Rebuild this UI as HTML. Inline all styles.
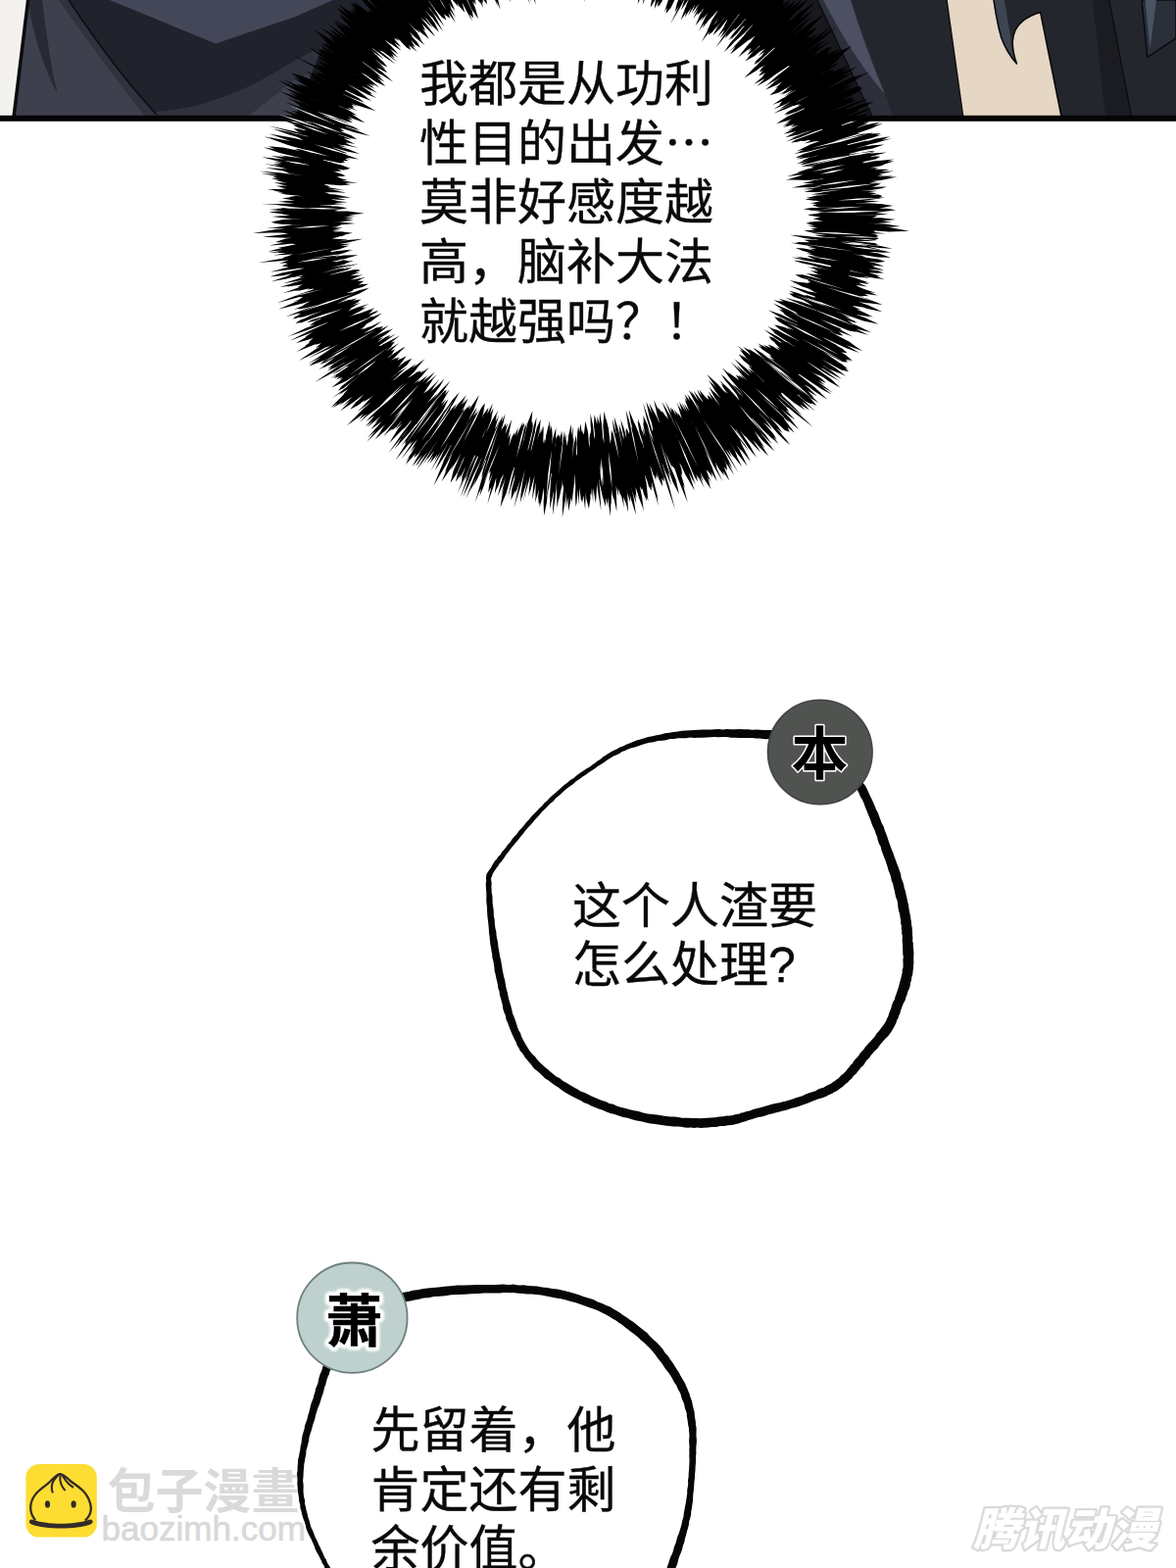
<!DOCTYPE html>
<html><head><meta charset="utf-8"><title>page</title>
<style>
html,body{margin:0;padding:0;background:#fff;}
body{width:1200px;height:1600px;overflow:hidden;font-family:"Liberation Sans",sans-serif;}
svg{display:block}
</style></head><body>
<svg width="1200" height="1600" viewBox="0 0 1200 1600">
<rect width="1200" height="1600" fill="#fff"/>
<g id="panel">
<rect x="0" y="0" width="1200" height="121" fill="#3e404e"/>
<path d="M0 0L28 0L13.5 121L0 121Z" fill="#f2f1ee"/>
<path d="M60 0C95 50 125 90 150 121L250 121L300 82L420 30L420 0Z" fill="#30323e"/>
<path d="M70 0C100 45 130 85 158 114C200 112 250 95 300 62L420 0L340 0L300 17.5L220 44.5L112 0Z" fill="#20222c"/>
<path d="M70 0C100 45 130 85 160 117" fill="none" stroke="#0c0c10" stroke-width="1.5"/>
<path d="M112 0L220 44.5L300 17.5L340 0Z" fill="#444758"/>
<path d="M330 45L420 0L834 0L891 121L300 121Z" fill="#18181d"/>
<path d="M28 0L43 0C48 40 52 70 59 96C45 70 35 40 28 0Z" fill="#272934"/>
<path d="M26.9 0L30.4 0L15.6 121L12.1 121Z" fill="#0a0a0c"/>
<path d="M834 0L891 121L1200 121L1200 0Z" fill="#24262e"/>
<path d="M834 0L868 0L912 121L891 121Z" fill="#2d2f3b"/>
<path d="M840 0L868 0C880 40 892 70 903 96C880 70 858 35 840 0Z" fill="#4d5062"/>
<path d="M834 0L891 121" stroke="#0c0c10" stroke-width="1.5" fill="none"/>
<path d="M966 0L1064 0L1083.5 121L983 121Z" fill="#e6d6c4"/>
<path d="M966 0L983 121" stroke="#111" stroke-width="1.5" fill="none"/>
<path d="M1014 0C1016 14 1018.5 27 1021.7 38.3C1026 50 1031 58 1037.5 65C1034.5 57 1033 49 1033.3 41.7C1034 33 1038 26 1043.3 21.7C1049 17 1055 14.5 1061.7 12.5L1083.5 121L1100 121L1100 0Z" fill="#24262e"/>
<path d="M1014 0C1016 14 1018.5 27 1021.7 38.3C1026 50 1031 58 1037.5 65C1033 55 1031.5 48 1031.7 41.7C1030 28 1027 14 1025 0Z" fill="#3d4552"/>
<path d="M1014 0C1016 14 1018.5 27 1021.7 38.3C1026 50 1031 58 1037.5 65C1034.5 57 1033 49 1033.3 41.7C1034 33 1038 26 1043.3 21.7C1049 17 1055 14.5 1061.7 12.5L1083.5 121" fill="none" stroke="#08080a" stroke-width="1.6" stroke-linejoin="round"/>
<path d="M1115 0L1131.7 0L1155 121L1128.3 121Z" fill="#1b1c22"/>
<path d="M1131.7 0L1155 121" stroke="#0b0b0e" stroke-width="1.3" fill="none"/>
<path d="M1165 0L1200 0L1200 39L1170.8 58.3Z" fill="#2a2f3a" stroke="#0b0c10" stroke-width="1.6" stroke-linejoin="round"/>
<path d="M1168.5 0L1180 0L1173.5 50Z" fill="#4a5363"/>
<rect x="0" y="117.8" width="1200" height="6" fill="#050505"/>
</g>
<path d="M864 219L863.9 226.1L863.6 233.2L863.1 240.3L862.3 247.4L861.4 254.5L860.2 261.5L858.9 268.5L857.3 275.4L855.5 282.3L853.6 289.1L851.4 295.8L849.1 302.5L846.5 309.1L843.8 315.7L840.9 322.1L837.8 328.4L834.5 334.7L831.1 340.8L827.5 346.9L823.7 352.8L819.8 358.6L815.7 364.3L811.5 369.9L807.2 375.3L802.7 380.6L798 385.8L793.2 390.9L788.4 395.8L783.4 400.6L778.2 405.2L773 409.7L767.7 414.1L762.2 418.3L756.7 422.4L751 426.3L745.3 430L739.5 433.7L733.6 437.1L727.7 440.4L721.7 443.6L715.6 446.6L709.4 449.5L703.2 452.2L696.9 454.7L690.6 457.1L684.3 459.4L677.9 461.4L671.4 463.4L664.9 465.1L658.4 466.8L651.8 468.2L645.3 469.6L638.7 470.7L632 471.7L625.4 472.6L618.7 473.3L612.1 473.8L605.4 474.2L598.7 474.4L592 474.5L585.3 474.4L578.6 474.2L571.9 473.8L565.3 473.3L558.6 472.6L552 471.7L545.3 470.7L538.7 469.6L532.2 468.3L525.6 466.8L519.1 465.2L512.6 463.4L506.1 461.5L499.7 459.5L493.3 457.2L487 454.8L480.7 452.3L474.5 449.6L468.3 446.8L462.2 443.8L456.2 440.6L450.2 437.3L444.3 433.9L438.5 430.3L432.8 426.5L427.1 422.6L421.5 418.6L416.1 414.4L410.7 410L405.4 405.6L400.3 400.9L395.3 396.1L390.3 391.2L385.5 386.2L380.9 381L376.3 375.7L371.9 370.3L367.7 364.7L363.5 359L359.6 353.2L355.8 347.3L352.1 341.2L348.6 335.1L345.3 328.8L342.1 322.5L339.2 316.1L336.4 309.5L333.7 302.9L331.3 296.2L329 289.5L326.9 282.6L325 275.7L323.3 268.8L321.8 261.8L320.5 254.7L319.3 247.7L318.4 240.5L317.6 233.4L317.1 226.2L316.7 219L316.5 211.8L316.5 204.6L316.7 197.3L317 190.1L317.5 182.9L318.2 175.6L319.1 168.4L320.2 161.2L321.4 154L322.9 146.9L324.5 139.8L326.3 132.7L328.4 125.6L330.6 118.7L333.1 111.7L335.7 104.9L338.6 98.1L341.7 91.4L344.9 84.9L348.4 78.4L352.1 72L356 65.8L360.1 59.6L364.4 53.7L368.9 47.8L373.6 42.1L378.4 36.6L383.5 31.2L388.6 26L394 21L399.5 16.1L405.1 11.4L410.8 6.9L416.7 2.5L422.7 -1.7L428.8 -5.7L434.9 -9.5L441.2 -13.2L447.6 -16.7L454 -20L460.5 -23.2L467.1 -26.2L473.7 -29L480.4 -31.7L487.1 -34.2L493.9 -36.6L500.7 -38.8L507.6 -40.8L514.5 -42.7L521.4 -44.4L528.4 -45.9L535.4 -47.3L542.4 -48.5L549.5 -49.6L556.5 -50.4L563.6 -51.2L570.7 -51.7L577.8 -52.1L584.9 -52.3L592 -52.3L599.1 -52.2L606.2 -51.8L613.3 -51.3L620.3 -50.7L627.4 -49.8L634.4 -48.8L641.4 -47.6L648.4 -46.2L655.3 -44.6L662.2 -42.9L669 -40.9L675.8 -38.8L682.5 -36.6L689.2 -34.1L695.8 -31.5L702.3 -28.7L708.8 -25.8L715.1 -22.7L721.4 -19.4L727.6 -15.9L733.7 -12.3L739.8 -8.5L745.7 -4.6L751.5 -0.5L757.2 3.7L762.8 8.1L768.3 12.6L773.6 17.3L778.9 22.1L784 27L789 32.1L793.8 37.3L798.5 42.6L803.1 48.1L807.5 53.6L811.8 59.3L815.9 65.1L819.9 71L823.7 77L827.3 83.1L830.8 89.3L834.2 95.6L837.3 102L840.3 108.4L843.2 115L845.8 121.6L848.3 128.2L850.6 135L852.7 141.8L854.7 148.6L856.4 155.5L858 162.5L859.4 169.4L860.6 176.5L861.7 183.5L862.5 190.6L863.2 197.7L863.6 204.8L863.9 211.9Z" fill="#fff" stroke="#000" stroke-width="20" stroke-linejoin="round"/>
<path d="M824.6 219L833.6 219.9L895 219.4L906.3 218.4L895 217.6L833.6 218.1ZM824.1 219.6L838.9 221.9L889.6 222.5L895 220.4L889.6 218.2L838.9 217.6ZM840.3 221.2L855.4 223.2L888.2 224.6L896 223.7L888.3 222.1L855.5 220.6ZM829.6 223.3L838.4 225.2L899.3 225.8L914.1 224.1L899.3 222.2L838.5 221.6ZM835 224.8L842.9 226.6L894.9 228L910 226.8L895 224.8L843 223.4ZM831 227.1L847.7 228.7L891.9 230.1L897.2 229.2L892 228L847.7 226.5ZM824.4 226.8L835.8 229L902.5 231.9L918.8 230.9L902.7 228.6L835.9 225.7ZM822.2 227.7L832.2 230.7L907.2 236.4L927.7 235.8L907.6 232L832.5 226.3ZM830.4 229.8L834.6 231.1L896.6 235.8L906.9 235.6L896.8 233.9L834.7 229.2ZM824.1 230.4L839.2 233.7L888.2 238L893.1 236.4L888.5 233.9L839.6 229.7ZM828.8 235.3L837.4 236.7L887.7 238.6L904 238.2L887.8 236.5L837.5 234.6ZM827.4 233.3L834.6 235.7L892.7 242.3L896.5 241.1L893.1 239.1L834.9 232.5ZM820.2 235.2L832.7 238.6L892.2 244.9L896.8 243.4L892.6 240.9L833.1 234.5ZM831 239.9L843.2 241.6L878.7 242.9L887.5 241.9L878.8 240.3L843.3 239ZM832 240.3L840.7 241.8L876.1 244L880.1 243.2L876.2 241.9L840.8 239.7ZM825.8 242.4L840.8 244.1L877.2 246.1L895.2 246.1L877.3 244.2L840.9 242.2ZM816.8 241.3L822.8 243L892.2 250.2L896.2 249.6L892.4 248.1L823 240.9ZM806.1 239.8L821 242.9L897.2 252.9L910.9 253.7L897.5 250.8L821.3 240.8ZM831 245.2L837.5 248.1L883.2 254.8L898.7 255.1L883.8 250.9L838.1 244.3ZM820.4 244.8L828.6 248L882.9 257.1L891.8 256.8L883.5 253.6L829.2 244.4ZM806.8 247.7L823 250.4L899.9 257.8L908.9 257.5L900.1 255.6L823.2 248.2ZM811.9 246.9L826.3 251.4L895.7 262.6L908.9 262.7L896.3 258.5L826.9 247.3ZM824.6 252.1L838.5 255.3L877.3 260.3L885.8 260L877.6 257.6L838.9 252.5ZM835.7 254.3L841.1 256.3L879.1 263.2L885 263.2L879.5 261.1L841.4 254.2ZM825.9 253.7L836.5 257.4L882.8 266.6L897.1 267.9L883.4 263.5L837.1 254.3ZM820.6 256.1L827.1 258.6L896 267.8L903.4 267.1L896.5 264.6L827.5 255.4ZM811.7 253L819.8 256.2L891.8 271.1L902.2 271.8L892.4 268.3L820.4 253.4ZM822.8 258.6L831.9 261.3L886.5 270.5L896.5 271.1L886.9 268.3L832.3 259.1ZM826.3 261.8L836.6 265L882.1 272L893.9 272.2L882.6 268.8L837.1 261.8ZM823.3 261.3L834.2 265L887.8 274.8L902.5 275.8L888.4 271.5L834.8 261.7ZM824.5 261.8L834.7 266.3L885.3 278.3L896 278.7L886.2 274.3L835.7 262.3ZM807.5 262.6L822.1 266L896.1 278.5L901.8 278.5L896.4 276.6L822.4 264.1ZM811.7 261.4L826.7 266.1L892.4 281.9L898.3 282.3L892.9 279.9L827.2 264ZM809.5 265.7L818.3 268.6L892.2 283.8L902.9 284.9L892.7 281.7L818.7 266.5ZM828.6 270.8L836.4 273.3L875.5 281.1L895.6 284.2L875.8 279.4L836.7 271.6ZM823.7 272.5L840.1 276.6L873.2 282.5L888.2 283.9L873.6 280.1L840.5 274.3ZM827.5 272.3L836.3 275.8L871.7 285.6L888.2 289.1L872.3 283.6L836.9 273.8ZM830.2 274.7L839.9 279.1L873.6 288.1L887.1 290L874.4 284.8L840.8 275.8ZM826.8 276.3L841.2 281.5L874.2 288.7L884.6 288.8L875.1 284.6L842.1 277.4ZM829.6 277.2L834.5 279.8L874.9 291L885 292.4L875.5 288.5L835.2 277.4ZM822.2 278.9L835 283.3L873 291.8L877.1 291.1L873.7 288.7L835.6 280.2ZM825.9 280.6L839.7 285.6L874.1 294.7L884.1 295.9L874.8 292.1L840.4 283ZM820.1 282.5L834.3 287L879.9 297.2L893.7 299L880.5 294.6L834.9 284.4ZM811.4 280.2L818 283.7L881.5 299.7L895.6 301.4L882.4 296.3L818.9 280.3ZM820.9 283.4L826.1 287.2L876.2 301.6L886.6 302.3L877.4 297.4L827.3 283ZM826.6 287.6L834.6 291.2L878.3 302.5L882.2 301.9L879.1 299.5L835.4 288.3ZM823.8 287.7L828.4 290.3L869.5 302.9L881.9 305.5L870.2 300.7L829.1 288.1ZM812.4 287.5L824.7 293.1L884.1 308.9L900.5 311L885.2 304.7L825.8 288.9ZM823.8 292.5L837.6 298.3L869.1 306.9L885.7 309.4L870.1 303.1L838.7 294.5ZM805.8 286.1L818.9 292.4L885 314.9L900.4 318.2L886.2 311.5L820.1 289.1ZM823 293.3L830.7 297.7L865.6 309.5L871 309.5L866.7 306.2L831.8 294.5ZM822.9 297.1L836.3 302.7L865.8 311.2L880.3 313.5L866.8 307.8L837.2 299.4ZM825.8 298.6L832.2 303L864.4 314L878.6 316.5L865.8 309.9L833.5 298.9ZM805.2 291.4L820.3 298.3L879 320.2L891.3 323.5L879.9 318L821.2 296.1ZM830.6 303.3L834.6 306.5L864.2 316.2L871.9 316.9L865.3 312.8L835.7 303.1ZM817.5 301.7L822.2 305.4L872.3 320.7L888.9 323.6L873.5 316.7L823.4 301.3ZM804.5 296.6L813.3 301.1L884.5 327.9L892 329.5L885.3 325.7L814.1 299ZM805.1 299.5L810 303L881.2 327.4L896.6 330.7L882.3 324L811.1 299.6ZM824.8 308.7L828.2 311.1L858 322L868.5 324.8L858.7 320L828.9 309.2ZM818.7 305.7L830.6 312.8L858.7 325L874 329.7L860.1 321.7L832.1 309.5ZM801.2 303.7L816.9 310.4L863.2 326.2L875.2 329.1L864 323.9L817.7 308ZM807.2 305.7L821.9 312.6L862.8 328.4L870 330L863.6 326.3L822.7 310.5ZM797 306L807.8 311.9L872.3 335.2L889 339.3L873.5 331.8L809.1 308.5ZM794.5 304.8L805.4 310.8L866.5 335.2L882.3 340L867.6 332.5L806.5 308ZM795.5 307L801.9 310.9L873 338.3L885.9 341.8L874 335.8L802.9 308.3ZM789.3 306L798.6 311.2L866.5 337.6L873.5 338.7L867.6 334.9L799.6 308.5ZM805.8 311.7L809.6 315.7L851.7 335.4L859.1 336.6L853.4 331.7L811.3 312ZM799.7 311.9L807.5 316.4L857.7 338.9L870.2 343.4L858.5 337.1L808.3 314.6ZM810.8 317.7L816.6 323L852.8 341.1L860.4 342.4L854.8 337.3L818.5 319.1ZM802.5 317.4L814.2 323.6L843.3 336.8L859 343L844 335.2L814.9 322.1ZM788.8 309.6L802.7 319L865 351.9L875.8 355.6L866.7 348.8L804.3 315.9ZM794.7 315.5L802.7 321.8L861.9 351.4L880.3 358.2L863.8 347.6L804.5 318.1ZM799.2 319.9L809.6 326.6L847.8 344.6L864.2 350.5L849.2 341.6L811 323.6ZM811.7 327.1L817.9 332.4L845.7 346L856 348.8L847.5 342.3L819.7 328.8ZM783.9 316.4L795.3 323.3L863.5 355.3L876.9 360.1L864.7 352.7L796.5 320.7ZM812.6 331L816 334.1L851.9 353.8L860.1 357L853 351.8L817 332.1ZM799.1 325.5L813.1 334.5L848.1 353.9L855.9 356.9L849.2 351.9L814.2 332.5ZM804.2 331.3L809.1 336L857.4 359.2L864.6 360.3L859.3 355.4L811 332.2ZM790.2 323.4L794.3 328L860.4 365.3L870 368.3L862.4 361.7L796.3 324.5ZM802.4 334.1L811.5 340.5L851.9 361.9L868.1 368.9L853.2 359.5L812.8 338.1ZM806.3 337.3L812.1 342.7L839.2 356.6L848.2 358.7L841.2 352.7L814.1 338.9ZM791.3 331.4L798.9 337.6L859.9 369.2L864.9 369.4L861.9 365.5L800.8 333.9ZM806.5 339.2L815.7 346L842.7 362.8L856.6 370.3L843.7 361.2L816.7 344.4ZM789.6 331.2L796.2 336.5L858.1 373.8L865.4 376.8L859.3 371.7L797.4 334.5ZM797.8 339.6L809.5 347L836.3 361.6L851.9 369.2L837.1 360.1L810.4 345.4ZM786 335.2L792.9 341.4L858.5 377.4L866.1 379.2L860.5 373.8L795 337.7ZM782.8 332.4L793.9 341.1L851.7 378.2L863.2 384L853.2 376L795.4 338.9ZM786.2 334.7L791 340.5L845.6 376.4L856 380.7L848 372.8L793.4 336.8ZM798.8 347.6L802.6 351.3L831.8 369.1L842 374L833.1 367.2L803.8 349.4ZM779.7 336.3L791.7 345.4L846.7 380.4L858.9 386.7L848 378.3L793.1 343.3ZM796.5 349.1L801.8 354.2L835.6 374.8L842.7 377.3L837.3 372L803.5 351.4ZM791.6 347.3L797 352L842.4 381L856.2 388.7L843.4 379.3L798 350.3ZM784.5 343.2L787.3 347.1L846.4 389.6L857.3 395.5L848.3 387L789.2 344.5ZM790.2 349.5L795.4 355L837.7 383.7L851.4 390.9L839.6 380.9L797.2 352.2ZM791.9 354.1L797.1 358.5L828.6 377.4L835.7 380.3L829.8 375.5L798.2 356.5ZM791.3 355.3L797.6 360.4L830.6 380.9L836.9 383.7L831.6 379.3L798.6 358.8ZM783.5 351.5L787.1 355.4L837.2 388.4L843 390.8L838.5 386.4L788.5 353.3ZM779.1 351.7L785.5 357.5L832.8 388.6L841.9 393L834.3 386.4L787 355.3ZM783.1 354.7L794.8 365.5L819.7 383L829.2 387.2L822.1 379.6L797.1 362.1ZM773.1 350.2L782.5 358.3L829.1 389.1L850.1 401.1L830.8 386.5L784.2 355.7ZM773.9 352.7L777.8 356.6L838.6 397.3L848.5 402.6L839.9 395.5L779.1 354.8ZM785.4 361.1L788 365.3L829.3 398L844.2 407.7L831.4 395.3L790.1 362.7ZM784.4 362.2L791.2 368.6L823.9 392.4L838 401.2L825.3 390.6L792.5 366.8ZM779.6 362.5L787.9 370.5L817.5 390.8L830.7 397.6L819.6 387.7L790.1 367.4ZM768.2 354.8L776.1 362.9L822.3 397.8L833.9 404.5L824.3 395.2L778.1 360.3ZM778.2 362.6L780.3 366.8L819.3 398.9L830.6 405.8L821.6 396L782.7 363.9ZM769.2 360.5L775.8 367L818.2 397.3L823.7 399.3L820 394.8L777.6 364.5ZM758.3 353.9L768.3 364L819.9 402.1L835.3 410.9L822.4 398.7L770.9 360.6ZM764.2 356L773.8 367.3L821.8 409.6L828.3 412.4L824.6 406.4L776.6 364.1ZM764.6 360.6L767.2 365.2L825 410.1L833.4 414.1L827.5 406.9L769.7 362ZM756.7 358.7L768.7 369.3L811.2 401.5L817.6 404.6L812.8 399.4L770.2 367.3ZM752.5 352.7L761.6 361.8L817.9 409L831.8 419.4L819.1 407.4L762.9 360.2ZM754.7 356.4L761.8 365.5L814.8 411.8L825.8 418.4L817.7 408.5L764.6 362.2ZM761.7 366.4L773.9 378.1L806.9 404.6L817.7 411.4L808.7 402.3L775.8 375.8ZM753.7 361.4L758.2 367.4L810.2 411.1L821.7 418.5L812.4 408.4L760.4 364.7ZM761.4 368.9L770 377.3L798.4 400.9L807.1 406.8L799.7 399.3L771.3 375.7ZM766.1 374.3L771.3 381.3L793.6 401.6L798.7 404.1L795.8 399.2L773.5 378.9ZM763.4 372.8L767 377.5L805 412.8L819 424.4L806.4 411.3L768.3 376ZM763.5 376L767.9 382.1L803.2 415.5L807 417.3L805 413.6L769.8 380.2ZM757.2 374.3L762 379.9L810.7 421.2L829.6 435.7L812.2 419.4L763.5 378.1ZM749.4 366.3L759.9 378.7L799.7 417.2L805.1 420.3L801.8 415L762.1 376.5ZM758.4 380L763.2 386.6L796.7 415.5L801.3 417.1L799 412.7L765.6 383.8ZM754.5 378.4L763.9 388.3L802.5 422.2L811.4 428.5L804 420.5L765.5 386.5ZM751.4 372.5L760.8 384.3L804 428.7L815.3 438.4L806 426.7L762.9 382.3ZM745.6 369.1L758.4 384L799.7 426.8L805.5 431.2L801.4 425.2L760.1 382.4ZM755.1 382.1L764.6 394.4L795.7 426.9L803.1 432.1L798.1 424.5L767 392ZM753.6 382.6L762.7 394.6L798.6 431.5L810.1 440.8L801.2 429L765.3 392ZM750.9 382.4L754.7 389.1L796.3 430.3L810.5 441.5L799.2 427.4L757.7 386.1ZM755 387.2L763.3 397.3L785.2 420.4L795.3 429.7L786.6 419.1L764.7 396ZM742.5 379.5L752.2 391.9L800.7 438.9L805.7 440.8L803.6 435.9L755.2 388.8ZM751.1 388.8L760.4 400.7L782.5 423.1L795.2 433.7L784.9 420.8L762.9 398.3ZM743.3 380.1L748.8 388.1L791.8 436.3L798.6 442.1L793.7 434.7L750.6 386.5ZM736.9 375L745.1 386.6L793.7 442.6L806 454.6L795.8 440.7L747.3 384.7ZM747.4 391.9L751.5 397.4L789.3 436.7L807.4 454.3L790.5 435.5L752.8 396.2ZM753 400.3L758.9 409L779.2 431.1L788.1 438.6L781.4 429L761.1 406.9ZM735.8 381.8L740 388.3L787.5 443.8L792.9 448.7L789 442.5L741.5 387ZM738.3 383.8L746.2 395.7L785 443.7L794.6 453.5L787.1 442L748.3 394ZM751.7 402.8L754.8 408.9L774.1 433L780.1 438.4L776.2 431.3L756.9 407.2ZM734 388L742.3 399.1L778.8 439L790.3 449.8L780.7 437.3L744.3 397.3ZM735.7 391.4L739 396.9L780 445.6L787.7 453.2L781.5 444.3L740.5 395.5ZM738.7 398.3L743.1 405L768.3 434.1L778.9 444.7L769.9 432.7L744.7 403.6ZM741.4 399.5L745.5 406.7L767.6 436.5L772.5 441.4L769.2 435.3L747.1 405.5ZM721.4 382.1L729.6 394L778.8 450.2L790.3 460.6L781.4 447.9L732.2 391.8ZM738.6 402.7L743 410.9L762.6 435.3L774.2 446.9L765.3 433.1L745.7 408.8ZM730.4 394.9L737.5 406.7L767.6 444.3L780.5 457.3L770.5 442L740.4 404.4ZM723 387.7L730.3 399.8L773.5 454.7L784.1 465.5L776.2 452.6L733 397.7ZM735.1 405.8L740 414L761 440.9L771.9 453.1L762.9 439.5L741.9 412.6ZM727.4 398.7L733.7 409.9L763.2 448.2L776.2 461.7L766.2 445.8L736.7 407.6ZM733.6 410.3L739.3 419.9L759.1 444.3L764.4 448.3L761.5 442.3L741.7 417.9ZM723.5 394.6L728.3 404.3L762.9 456.1L771.9 467L765.2 454.5L730.6 402.7ZM723.6 401L731.4 412.6L760.2 450.3L764.5 454.4L761.7 449.2L732.8 411.5ZM722.7 399.5L727.1 408L754.5 448.2L763.9 459.9L756.4 446.9L729 406.7ZM723 403.3L729.3 416.4L751.1 449.4L758.3 456.9L754.3 447.3L732.5 414.3ZM721.6 403L723.7 409.8L753.8 456.1L766 471.2L757.1 453.9L727 407.7ZM719.2 404.4L721.5 409.7L753 454.2L763.9 467.6L754.9 452.8L723.5 408.3ZM724.5 413.5L725.8 417.6L747.2 448.9L757 461L749.3 447.5L727.8 416.1ZM713.3 397.5L719 410.4L750.7 460.7L762.5 475.6L754.2 458.5L722.5 408.2ZM716.7 409.1L718.2 413.2L752.4 460.5L755.8 463.1L754.3 459.1L720.2 411.9ZM711.1 397.6L714.6 405.4L747.9 460.9L752.2 465.9L749.8 459.8L716.4 404.3ZM707.7 398.8L714.6 412.9L746.8 463.4L757.2 476.4L749.8 461.4L717.6 411ZM702.7 398L707.8 408.1L747.6 465.1L753.5 471L750 463.4L710.3 406.4ZM704.9 398.7L711.9 413L739.1 457L747 467L741.6 455.4L714.5 411.4ZM711.3 412L715.4 420.6L739.3 460.4L753.6 482.4L740.8 459.4L716.9 419.6ZM707.7 407.9L715.3 422.9L737.5 461.3L744.4 471.5L739 460.4L716.8 422ZM701.2 402L704.8 410L740.3 468.5L747.4 477.9L742.3 467.3L706.8 408.9ZM702.5 405.7L705.5 413L739.5 470.5L749.3 484.9L741.6 469.3L707.6 411.8ZM702.8 407.9L705.2 416L736.3 473.3L742.1 480.5L739.3 471.7L708.2 414.4ZM698.5 402.2L703.5 415.3L737.6 475.8L741.8 479L741.2 473.7L707.1 413.3ZM698.4 405.7L702.7 417L736.2 479L744.4 490.6L739.1 477.4L705.6 415.5ZM698.9 408.5L706.1 426.2L729.8 470.2L734.4 474.3L733.5 468.3L709.7 424.2ZM697.9 411.8L702.3 422.3L733.9 478.8L739.1 485.4L736.2 477.6L704.5 421ZM705.1 428.5L708.8 439.5L724 467.4L731.9 477.4L727.7 465.4L712.4 437.5ZM695.2 409.9L701.8 424.8L727.6 474.5L737.7 491.8L729.3 473.6L703.6 423.8ZM705 431.7L705.9 435.8L718.9 462.8L726.3 476.1L720.6 462L707.6 435ZM693 410L696.7 421.8L723.2 477.5L731.7 491.2L726.4 476L699.9 420.3ZM691.4 412.8L695.2 425.6L720.2 477.5L727.1 487L724 475.7L699.1 423.8ZM690.5 410.5L695.6 424.3L720.1 477.4L723.3 481.9L722.1 476.5L697.6 423.4ZM691.2 420.8L694.7 431.9L715.5 472.7L722.4 481.8L718.9 470.9L698.1 430.2ZM692 426.5L694.6 435.2L716.5 478L725.6 492.3L719.3 476.5L697.5 433.7ZM688 417.6L692.5 431.8L718.3 486.9L724.2 494.7L721.9 485.2L696.1 430.1ZM683.9 415.8L686.1 424.6L716.9 486.4L725.5 499.3L720.4 484.7L689.6 422.9ZM685.4 415.7L690.2 432L708.9 476.4L717.5 491.8L712.5 474.9L693.7 430.5ZM678.9 409.4L684 423.1L711.5 484.5L718.7 498.1L713.3 483.7L685.7 422.3ZM675.5 409.9L681.2 425.1L708.4 481.7L713.2 488.2L711.1 480.4L683.8 423.8ZM680.2 417.9L683.1 427.5L708.8 486.8L712 491.5L710.9 485.9L685.3 426.6ZM680.9 423.8L683.7 433.7L703.4 482.3L709.7 494.8L705.5 481.5L685.7 432.9ZM679.7 423.5L682.8 433.8L700.7 477.4L707.6 491.4L702.6 476.7L684.7 433.1ZM675.1 418.8L676.5 427.4L698 478.9L706 492.9L701.7 477.4L680.2 425.9ZM671.3 415.4L673.2 425L698.9 483.5L708.8 500.8L702.8 481.8L677.1 423.3ZM679.4 430.7L679.7 436L692.1 471L695.2 475.2L694.9 470L682.5 435ZM671 418.2L672.7 427.3L692.4 479.5L696.1 484.7L695.4 478.3L675.7 426.2ZM670.8 427.7L673.7 437.2L692.5 479.8L696.3 485.6L694.6 478.9L675.8 436.3ZM667.2 407.9L670.5 423.5L692.1 489.3L701.8 513.3L695.4 488.2L673.7 422.4ZM662.3 411.2L666.9 426.9L691.3 484.6L699 498.1L694.7 483.2L670.3 425.4ZM668.6 431.5L671 441.6L684.5 473.4L688.9 479.1L687.7 472L674.3 440.2ZM665.7 428.3L669.8 444L681.1 472.4L686 478.9L684.9 470.9L673.6 442.5ZM659.4 410L662.5 424.8L686.1 491L692.9 504.2L689.8 489.7L666.2 423.5ZM666.2 435.9L665.9 441L679.4 477.4L686.9 491.9L683.2 476L669.7 439.6ZM663.6 425.2L666.6 439.8L678.2 479.1L682.2 488.2L680.7 478.4L669.1 439.1ZM664 436.4L668.1 451.5L678.8 481.1L685.2 495.2L681.1 480.2L670.4 450.7ZM656 410.7L660 427.2L681 497L689 520.2L682.8 496.5L661.7 426.7ZM659.8 434.4L664.9 453.6L674.8 481.5L679.6 490.4L677.7 480.5L667.8 452.6ZM659.3 438L661.3 449.4L673.9 485.8L677.8 491.4L677.3 484.6L664.8 448.2ZM656.2 423.9L657.3 434.5L672 488.3L676 496.4L675.4 487.4L660.7 433.5ZM655.6 428.7L659 447.2L667 477.9L671.1 488.3L669.6 477.2L661.6 446.5ZM655.4 435.1L658.2 450.7L665.4 479.3L669.5 491L667.6 478.8L660.3 450.2ZM650.5 429.7L652.6 441.4L666.6 484.4L669.5 488L669.6 483.4L655.6 440.4ZM650.9 427.1L651.9 435.3L667.3 500.5L671.9 516.2L669.1 500.1L653.7 434.8ZM647 430.6L649.2 441.3L664.5 490.5L672.1 511.3L666.6 489.8L651.3 440.7ZM651.8 444.3L652.6 454L660.3 483.1L665.9 498.3L663.4 482.3L655.8 453.2ZM641.7 418.1L643.8 431.3L661.9 496L664.7 500.4L664.8 495.2L646.8 430.5ZM646.2 437.9L647.6 449.6L657.3 483L664.3 500.7L660.8 482L651.2 448.6ZM646 439.3L645.9 449L655.4 493.8L661.4 511.6L659.6 492.9L650.1 448.1ZM644.6 435.1L644.6 445L653.2 487.6L659.2 507.9L657 486.8L648.4 444.2ZM638.6 418.3L640.9 434.4L656.7 503.5L660 511.5L659.4 502.9L643.5 433.8ZM642.3 439.8L641.1 444.4L651.7 494.2L655.2 500.3L655.8 493.3L645.3 443.5ZM638.9 436.4L638.6 441L652.6 507.2L656.9 521.9L655 506.7L641 440.5ZM638.9 442.8L639.7 453.6L647.2 492.5L650.7 503.8L649.7 492L642.2 453.1ZM633.4 428.1L635 438.7L651.8 507.4L655 515.8L653.9 506.9L637 438.2ZM636.5 440.9L636.3 448.8L645.1 494.4L649.5 508.6L648.3 493.8L639.6 448.2ZM631.6 432.7L632.4 442.7L645.1 501.1L649.3 514.3L647.6 500.6L634.9 442.2ZM633.4 440.7L634.3 452.4L642.3 497L644.3 501.3L644.6 496.6L636.6 451.9ZM626.6 425.2L628.1 438.5L643.7 508.7L649 525.6L646.6 508L630.9 437.9ZM629.4 439.6L629.4 445.1L640.6 504.8L643.2 512.7L642.7 504.4L631.4 444.7ZM628.7 434.4L628.9 449.5L636.6 504.5L641 522.7L640.2 504L632.6 449ZM625 427.5L626.7 448.4L636 507.2L638.7 513.4L639.3 506.7L629.9 447.9ZM624.6 438.3L625.3 452.6L632.4 498.8L636.8 517.9L635.3 498.4L628.2 452.1ZM623.8 439.3L623.4 450.7L629.9 495.8L633.5 506.4L633.9 495.2L627.4 450.1ZM623.9 439.4L623.8 451L628.1 492.6L630.9 506.7L630.7 492.3L626.4 450.8ZM623.1 448.9L622.4 458.5L625.7 495.7L629.3 519L628.7 495.4L625.4 458.2ZM618.3 426.6L618.2 437.4L626.5 508.9L629.3 522.1L629.1 508.6L620.9 437.1ZM618.5 436.3L618.1 447.2L624.7 504.8L627 510.7L627.9 504.4L621.3 446.8ZM617.7 440.6L616.9 450.4L620.9 499.8L623.6 515L624 499.6L620.1 450.1ZM616.5 419.4L615.4 434.2L619.7 505.2L622.9 526.8L623.6 504.9L619.4 434ZM614.6 444.3L614.2 452.2L617.2 487.2L619.4 500.4L619.4 487L616.4 452ZM612 420.8L611.6 433.2L617 504.6L618.6 509.6L619.5 504.4L614.1 433ZM609.5 424.5L609.3 436.2L616.7 500.8L620.1 516.7L619.9 500.4L612.5 435.8ZM606.5 423L606 434.6L614.6 505.8L617.9 517.1L618.3 505.3L609.7 434.2ZM607.2 425.1L606.9 441.9L611.7 492.7L615.1 507.7L615.5 492.3L610.6 441.6ZM607.1 443.7L606.4 451.3L609 486.8L610.7 492.9L611.6 486.6L609 451.1ZM602.5 422.1L602.6 433.7L609.9 500.3L613.4 521.4L612.2 500L605 433.5ZM603.8 437.4L602.5 453.2L604.8 495.1L608 513.8L609.1 494.8L606.8 453ZM603.4 433.9L602.2 447.2L603 492.3L604.7 500.7L606 492.3L605.2 447.2ZM602.2 441.2L601.5 447.6L603.3 491.4L605.2 513L605.3 491.3L603.5 447.6ZM600.4 451L599.6 456.6L601.5 487.6L603.7 506.6L603.7 487.5L601.8 456.5ZM597.3 429.8L596.1 441.4L600.1 498.2L602.6 505.3L604 498L600.1 441.2ZM596.6 439.3L594.8 445.5L598.2 508.4L600.9 519L602.5 508.2L599.1 445.3ZM596 446.1L594 456L594.2 493.9L596.4 500.7L598.4 493.9L598.1 455.9ZM594.1 439.1L592.8 445.9L594.8 500.3L597.1 520.3L597.9 500.2L595.9 445.8ZM592.3 432.3L590.6 446.4L591.9 502.9L594.1 512.9L595.9 502.8L594.6 446.3ZM590.3 434.5L589.6 446.4L591.5 498.8L593.1 512.2L593.8 498.7L591.9 446.4ZM589.5 435.5L588.7 451.3L589.4 496.8L590.7 515.2L591.4 496.7L590.8 451.3ZM591 440.3L589.4 448.8L586.9 505.5L587.6 517.4L589.3 505.6L591.8 448.9ZM586.8 453.3L586.1 458.8L587.1 494.6L588.5 515.5L588.9 494.6L587.9 458.7ZM587.8 443.7L586.2 452.5L583.9 493.6L584.7 498.8L586.1 493.7L588.4 452.7ZM584.2 442.5L582.2 457.5L581.7 496.4L583.5 513.3L585.5 496.5L585.9 457.5ZM584.7 446.3L582.4 450.8L579.1 504.8L580.2 521.6L583.3 505.1L586.5 451ZM584.7 434.6L581.7 453.9L577.9 498.7L577.6 518.2L580.7 498.9L584.5 454.2ZM582.8 432.7L580.1 444.6L574.1 508L573.8 528L577.2 508.3L583.2 444.9ZM579.8 448.6L576.8 461.6L574.8 491.3L575.6 510.5L579.1 491.6L581.1 461.9ZM578 448.6L576.3 457.1L573.7 487.5L573.8 499.5L575.8 487.7L578.3 457.3ZM577.5 442.7L575.1 453.2L571 491.2L570.8 503.9L573.5 491.5L577.6 453.4ZM576.1 439.4L573.2 453.8L569.7 495.8L570.2 510.4L573.2 496.1L576.7 454.1ZM573.2 439.6L572 445L568.2 508.4L568.5 518.2L570.1 508.5L573.8 445.1ZM571.1 447.4L569.8 452.8L567.8 499.8L568.4 510.3L569.9 499.9L572 452.9ZM571.3 443.9L569.9 448.9L564.5 508.6L563.9 526.3L566.5 508.8L571.9 449ZM569.9 443.3L567.4 447.1L561.5 497.8L561.1 519.3L565.7 498.3L571.6 447.6ZM567.6 452.3L566 456.4L562 489.9L560.9 508.7L564.2 490.2L568.2 456.7ZM566.4 447.5L563.3 461.4L558.1 496L556.3 515.8L560.3 496.4L565.4 461.7ZM567.4 436.2L563.7 448.9L556 499.6L554.8 519.5L559.4 500.1L567.1 449.4ZM562.9 434.3L560.4 444.6L554.6 512.4L555.1 526.3L557.9 512.7L563.7 444.9ZM561.4 432.7L558.2 449.1L554.3 495.6L555.2 507.6L558 495.9L561.8 449.4ZM560.6 437.7L558 447L550.4 507.8L550.6 517.7L553.2 508.1L560.8 447.3ZM560.9 428.9L557.2 444.3L549.1 506.7L549.8 514.5L552.3 507.1L560.4 444.7ZM560.2 440.5L556.2 449.9L548.1 490.6L545.9 513.1L552.4 491.4L560.4 450.7ZM555.6 447.7L551.5 460L546.8 489.9L546.4 505.9L551 490.6L555.7 460.7ZM554.8 434L551.5 449.2L546.3 491.1L547.1 496.4L549.2 491.5L554.3 449.5ZM553.7 434.7L551.4 443.8L544.1 495.7L543.1 510.1L546.1 496L553.4 444.1ZM552.5 439.2L548.3 453.9L542.4 485.7L541 501.3L545.3 486.3L551.2 454.4ZM551.8 439.7L547.2 453.5L541.2 485.4L539.3 506.4L545.2 486.1L551.2 454.3ZM551.6 437.7L546.6 453.8L539 485.4L534 511L541.1 485.9L548.7 454.3ZM548.8 439.1L545.1 452.7L538.3 485.4L538 491.2L540 485.7L546.8 453.1ZM551.7 427.8L547.8 436.6L534.1 492.5L530.6 513.5L537.2 493.3L550.9 437.4ZM547.5 425.5L544.9 433.6L533.3 491.6L530.6 510.3L535.3 492L546.9 434ZM546.1 436L544 440.1L529.2 496.3L524.5 518.1L531.1 496.8L545.9 440.7ZM542 435.5L539.4 445L532.9 480.1L530.1 500.2L534.7 480.4L541.1 445.3ZM543.3 429.7L539.5 436.8L527.8 486.4L525.8 503.9L531.8 487.3L543.5 437.7ZM543 430.2L539.9 433.7L522.3 499L521.4 510.2L526.2 500L543.8 434.8ZM543.3 419.3L538.4 431.4L524.6 491.8L523.8 504L528.5 492.7L542.3 432.2ZM534.7 442.7L532 450.6L525.5 480.6L524.5 489.3L527.3 481L533.8 451ZM537.6 431L534.5 439.6L521.9 489.8L518.4 507.3L523.6 490.2L536.2 440ZM535 433.8L530.5 445.8L521.6 478.1L520.2 487.9L524 478.8L532.8 446.4ZM534.9 432L531.9 435.7L512.9 502.3L510.6 517.5L516.6 503.3L535.5 436.8ZM533.5 432.9L528.1 446.3L516.6 483.8L511.6 504.4L519 484.5L530.5 447ZM533.8 430L528.7 440.9L511.3 492.1L507.7 506.8L513.8 492.9L531.1 441.7ZM528.8 435.9L524 447.5L513.7 483.7L512 495L516.5 484.5L526.8 448.3ZM525.7 444.8L522.6 448.9L511.4 481.4L509.5 491.8L514.4 482.5L525.7 449.9ZM525.4 441L522.5 445.4L506.1 494.6L504.8 502.7L508.7 495.4L525.1 446.2ZM521 445.5L517.4 455.2L509.4 484.3L504.5 505.5L511.1 484.7L519.1 455.7ZM520.7 442.1L516.5 450.5L506.5 485.5L505.9 494.2L509.9 486.5L519.8 451.4ZM519.1 439.8L516.7 444.4L502 494.7L497.3 514.4L504 495.3L518.7 444.9ZM522.3 427.7L515.8 442.4L499.2 493.9L498.2 502.8L502.5 494.9L519.1 443.4ZM516.8 440.9L512.2 449.3L502.4 477.3L502 483.1L505.3 478.3L515.1 450.3ZM518.2 431.6L510.1 450.5L501.5 476.9L498.5 492.2L505 478L513.6 451.6ZM517.5 432.5L511.3 445.1L500 476.3L499.3 483L503 477.4L514.2 446.2ZM516.3 431.7L511.5 438.7L492.4 487.5L487.2 505.8L495.9 488.8L515 440.1ZM515.6 422.1L511.7 431.2L491.4 496.2L489.4 506.2L493.4 496.8L513.6 431.8ZM512.9 425.5L509.3 433.5L491.1 490.2L484.8 513.1L493 490.8L511.2 434.1ZM513.1 423.7L508.5 434L492.9 479.5L491.2 487.7L494.8 480.2L510.4 434.7ZM505 442.6L501.9 446.1L489.2 477.5L483.2 496.4L492 478.7L504.8 447.2ZM510.7 428.1L504.3 439.2L485.8 481.7L475.2 509.3L488.3 482.8L506.9 440.4ZM509.3 423.2L502.6 437.7L487.2 479.1L480.2 501.1L489.4 480L504.8 438.5ZM507.2 426.4L500.8 438.8L487.1 471.6L481.5 487.9L489.2 472.5L502.9 439.7ZM506.8 423.8L502.8 430.2L478.6 488.7L472.4 507L481 489.7L505.2 431.2ZM508.4 418.4L502.4 428.5L478.6 478.7L473.8 491.4L480.6 479.6L504.4 429.5ZM502.4 423.1L499.3 428.7L476.6 487.5L469.6 507.8L478.2 488.1L500.9 429.3ZM503.6 416.6L500.4 421.8L475 481.5L466.9 503.2L476.8 482.3L502.2 422.5ZM502.9 411.6L495 426.5L471.6 485.7L471.2 491.5L474.9 487L498.4 427.9ZM496 427.1L492.1 431.3L475.1 472.9L475 478.5L478.8 474.4L495.9 432.9ZM495.3 425.1L491.5 430.3L474.3 471.7L468.7 489L477.1 472.8L494.3 431.5ZM498.5 416.1L493.3 423.1L467 482.7L465 491.7L470.4 484.1L496.7 424.6ZM488.9 433.3L485.9 437L474.4 464.5L469.9 478.7L476.9 465.6L488.3 438ZM493.5 420.4L487 429.7L465.8 474.4L459.6 491.7L469.1 476L490.3 431.3ZM494.9 411.3L489.3 418.8L462.6 480.5L459.7 492.7L466.6 482.2L493.3 420.5ZM489.1 425.8L482.5 435.8L464.6 468.7L459.6 479.9L466.4 469.7L484.3 436.8ZM486.7 427.4L479.1 438.1L464.8 463.2L460.3 473.6L467 464.5L481.3 439.4ZM493.3 413.2L486.7 421.7L457 476.3L450.6 491.6L460 478L489.7 423.4ZM487 419.4L480.5 428.2L460.2 466.3L453.8 482L463.2 467.9L483.5 429.8ZM486.6 415.2L478.2 428.7L461.4 462.6L456.4 475.9L464.1 463.9L480.9 430ZM486.5 417.1L480.1 425.9L455.7 468L448.9 481.7L457.5 469.1L482 427ZM488.9 402.9L480.1 416L452.8 470.5L442.4 495.7L456.3 472.2L483.6 417.7ZM480.3 419.5L475.3 426.6L460.5 453.9L451.5 472.5L462.2 454.8L477 427.5ZM480.5 413.6L474 421.7L452.1 461.4L443.7 480.3L455.2 463.1L477.1 423.4ZM479.3 412.8L474.5 419.8L454.8 456.9L447.8 472L456.4 457.8L476.2 420.7ZM477.2 414.9L472.6 420.6L452.7 455.3L439.6 480.3L454.6 456.5L474.6 421.7ZM473.4 418.4L470 421.7L448.9 458L443.1 470.5L451 459.3L472.1 422.9ZM474 416.5L467.4 423L445.4 457.9L438.5 472.9L449.1 460.2L471 425.3ZM471.4 419.6L467.4 422.8L445.1 456.4L435.4 473.8L447.6 458.1L469.9 424.5ZM477.7 406.6L470.9 414L442.3 456.4L435.7 468.9L444.8 458.1L473.4 415.7ZM475.4 406.7L466.6 418.6L440.6 458.6L431.4 474.3L442.1 459.6L468.2 419.6ZM470.4 412.1L466.5 416.1L434 464.5L425.2 479.4L435.6 465.6L468.1 417.2ZM476 403.1L466.9 412.9L435.1 457.3L423.8 475.9L437.8 459.2L469.6 414.8ZM459.6 420.5L454.2 426.9L436.8 454.5L425 475.6L438.8 455.8L456.2 428.2ZM465.9 412.2L458.2 419.7L429.5 460L420.5 475.9L432.6 462.2L461.3 422ZM460.5 415.1L453.2 423.4L437.5 447.6L432.1 458.9L440.2 449.3L455.9 425.2ZM468.9 400L461.3 408.4L424.8 461.3L422.5 467L427.1 462.9L463.6 410ZM465.4 405.9L459.6 411.2L423.9 458.5L413.6 474.6L426.3 460.2L461.9 413ZM455.6 416.1L446.2 426.5L428.7 449.6L413.9 470.8L430.4 450.9L448 427.9ZM457.5 407.2L448.8 416.8L423.1 456L414.6 472.5L426.4 458.2L452.1 418.9ZM450.2 415L445.8 418.4L428.4 443.7L418.2 461.7L431.3 445.7L448.6 420.3ZM447.7 416.9L444 420L424.4 446.3L409.2 468.7L426.2 447.7L445.8 421.3ZM455.4 407.3L443.9 418.4L423.2 443.9L417.5 454L426.2 446.3L446.9 420.8ZM458.6 397.6L447.6 409.5L422.7 443.4L418.6 452.2L425.6 445.6L450.5 411.7ZM455.9 397.4L451.4 401L416 449.8L403.5 469.7L418.5 451.6L453.9 402.8ZM455.3 398.1L444.2 409.8L415.6 446.8L412.8 453.3L418.3 448.9L446.8 411.8ZM454.8 397.4L444.4 409.1L421.2 438.6L408.3 456.4L422.6 439.7L445.8 410.2ZM459.5 388.6L450.6 397.5L409.1 447.4L406.1 452.8L410.9 448.9L452.4 399ZM443.2 406.5L438.8 409.4L415 439.7L402.3 458.5L417.6 441.8L441.4 411.4ZM446.3 401.5L437.3 410.1L417.9 433.6L414 440.3L420 435.3L439.4 411.9ZM453.4 386.5L447.5 392.6L408.8 444.4L396.4 462.6L410.4 445.7L449.2 393.8ZM449.3 390.8L441.1 398.2L411.3 434L407.8 440.7L413.7 436L443.5 400.2ZM445.3 396.4L439.7 400.3L410.9 432L407 438.7L413.2 434L441.9 402.3ZM444.7 391.6L434.4 401.7L405.9 438L397.1 452.2L408.8 440.3L437.4 404ZM448.5 387L437.7 397.6L409.8 429.5L403.5 438.5L411.6 431L439.5 399.1ZM436.7 398L427.5 405.3L407.8 426.5L397.4 440.3L410.4 428.9L430.1 407.8ZM441.8 387.3L430.7 398.8L402.3 433.9L400.1 438.9L404.5 435.7L432.9 400.6ZM438.1 391L433.4 394.8L398.2 435.7L391.2 445.5L400 437.1L435.1 396.3ZM439.7 387.2L431.4 393.4L391.5 436.1L382.5 448.4L394.2 438.6L434.1 396ZM445.9 382.1L435.1 391.4L392.2 434.2L388.1 439.9L393.7 435.7L436.6 392.9ZM433.3 391.1L421.6 400.2L399.2 422.8L383.7 441.3L402.1 425.6L424.4 403ZM443.9 379.4L432.7 388.2L389.9 429.8L374.7 446.9L392.1 432.1L434.9 390.5ZM433 385.6L427.1 390L388.2 433.3L374.5 450.8L390.4 435.3L429.3 392ZM436.5 382.9L425.7 390.7L386.6 427.9L378.3 438.2L389 430.5L428.1 393.3ZM428.5 387.2L418.2 394.5L396.7 415.1L382.1 431.9L399.5 418L420.9 397.3ZM421 392.6L416.2 395.6L397.7 415.1L383.8 431.8L399.8 417.1L418.4 397.6ZM437.9 374.7L428.2 382L384.9 424.1L374.7 436L386.9 426.1L430.2 384.1ZM429.4 378.4L424.6 380.1L386.8 418.3L372.9 435.4L389.9 421.3L427.7 383.1ZM433.1 377.2L420.4 386.4L382.3 420.1L373.5 430L384.4 422.4L422.4 388.7ZM421.9 384.6L412.9 390.8L388.6 412.8L385.8 417.3L390.6 415L414.8 392.9ZM423.2 381.6L413.4 387.5L390.7 407.5L375 424.1L393.4 410.6L416.2 390.6ZM428.8 371.3L420.6 376.8L383.6 412.4L366.9 430.7L385.9 414.8L422.9 379.3ZM433.5 366.3L420.6 375.7L374.4 418.1L366.3 427.9L376.8 420.7L423 378.3ZM430.9 368.9L419.3 376L371.9 416.1L353.9 434.2L374.7 419.4L422 379.3ZM419.1 377L414.8 379.1L377.4 411.3L368.2 420.9L379 413.2L416.4 381ZM425.1 370.8L411.3 380.3L377.9 407.5L364.5 420.2L379.6 409.6L413 382.4ZM410.3 377.6L405 380.9L377.9 406.5L366.5 419.1L379.7 408.4L406.8 382.8ZM415.7 374.3L401.7 383.7L376.1 403.9L370.1 410.4L377.8 406.1L403.3 385.8ZM418 366.6L405.2 376.8L376.5 402.5L370.3 409.4L377.9 404L406.5 378.2ZM420.2 365.7L413.2 368.9L363.3 410.2L357.3 417.7L365.8 413.2L415.7 372ZM410.2 370L398.5 377.7L374.3 398.9L364.3 410.1L376.7 401.7L401 380.5ZM407.5 372.9L400.9 376.9L363.5 405.9L349.7 417.8L364.6 407.4L402 378.4ZM414.7 363.3L407.8 366.7L358.8 407.5L347.2 419.3L361 410.2L410.1 369.4ZM408.5 366L397.7 372.4L368.1 396.8L349.8 414.2L370.5 399.7L400.1 375.3ZM401.4 370L393 374.1L361.8 398.7L345.9 413.7L364.3 401.8L395.5 377.3ZM407.6 364.5L401.8 366.4L352.3 404L339.4 416.2L354.7 407.2L404.2 369.6ZM404.5 364.9L397.8 368.6L358.6 398L341 412.4L359.8 399.7L399.1 370.3ZM413.3 353.5L399.9 361.9L352 401.3L337.4 415.9L354.6 404.4L402.5 365ZM400.8 362.1L394.2 365.9L354.7 397.5L350.3 402.5L356.2 399.4L395.7 367.8ZM414.1 354L399.8 362.7L356.3 393.1L339 406.3L357.4 394.6L400.9 364.3ZM402.9 356.6L397.2 358.8L357.5 391L345.8 402.9L359.9 394L399.6 361.8ZM401.8 357.8L391.1 363.7L362.2 383.3L352.7 391.2L363.5 385.2L392.4 365.6ZM407.1 349.9L394.4 358L348.7 394.1L345 398.8L350.4 396.3L396.2 360.3ZM401.1 355.8L392.2 359L350.6 385.4L338.3 395.6L352.8 388.9L394.4 362.4ZM400.7 352.8L386 360.9L353.5 382.6L348.7 387.6L355.1 385.1L387.6 363.3ZM395.1 354.3L388.8 356.4L356.1 378.8L345.9 388L358.2 381.8L390.9 359.5ZM403.1 348.6L396.4 350.4L351 379.6L343.2 387.2L353.4 383.2L398.7 354ZM407.9 342.5L391.1 351.2L345.2 380.9L340.7 386L347.2 384L393.1 354.2ZM399.4 348.5L385.9 355.1L358.2 371.9L336.8 386.5L359.6 374.2L387.3 357.3ZM388.4 352.5L382.7 353.4L356.9 368.6L350.8 374.8L359.1 372.4L384.9 357.1ZM398.7 341.8L393.3 344.1L344.8 376.9L339.2 382.1L346 378.8L394.6 345.9ZM403.8 340.8L389.1 347.9L342.5 375.6L321.1 390L343.9 378L390.5 350.3ZM391.2 344L379.9 348.8L357.6 362.9L343.8 373.8L359.6 366.1L382 352.1ZM388.7 345.6L383.7 346.9L343.3 371.2L333.8 378.7L344.9 373.8L385.3 349.5ZM401.2 335.3L393 339.1L340.3 371.5L334.6 376.4L341.5 373.5L394.2 341ZM398 336.1L385.5 341.7L338.7 368.6L333.7 373.2L340.1 371L386.9 344.1ZM396.5 332.2L384.7 337.8L341.4 366L329.6 375.6L343.2 368.8L386.5 340.6ZM380.5 341.5L371.8 344.9L342.5 363.9L325.3 377.3L344.5 367L373.8 348ZM386.2 338.5L381.7 339.7L331.2 367.7L326.3 371.7L332.3 369.7L382.8 341.7ZM391.2 332.9L383.7 334.5L328.7 364L315.6 373.4L330.8 367.8L385.7 338.4ZM378.4 337.3L368.3 341.2L341 358.3L335.7 364.1L343.2 361.9L370.5 344.7ZM389.7 327.7L380.2 332.3L330.3 362.6L315.1 372.9L331.3 364.3L381.2 334ZM378.3 333.6L374 334.4L338.2 355.5L314.1 371.5L339.7 358L375.5 336.9ZM380.5 332.4L375.2 333.9L337 353.2L314.4 365.6L337.9 354.9L376.1 335.7ZM372.4 334.9L363.8 337.1L336.7 349.6L326.9 356L338.1 352.7L365.2 340.1ZM373.8 331.2L368.3 332.5L342.9 345.9L326 356.4L344.3 348.5L369.7 335.1ZM389.9 319.5L377.2 324.7L323.3 355.4L305 367.9L325.1 358.5L379 327.8ZM381.5 323.4L367 329L329.2 349.1L322 355L330.9 352.3L368.7 332.2ZM374.3 327.6L368.7 327.9L333.6 344.1L321.3 352.1L335.4 347.9L370.4 331.7ZM381.3 322.5L370.9 324.8L319.9 346.9L311 352.9L321.5 350.6L372.5 328.6ZM386.5 316.6L371.7 321.9L321.3 347.2L302.5 358.9L323.1 350.7L373.5 325.4ZM386.2 317.7L370.3 322.6L326.9 340.7L319.5 345.5L328.2 343.6L371.5 325.5ZM382.7 313.9L367.1 319.7L320.1 344.3L314.7 349.5L322 348L369 323.4ZM380.6 316.6L374.1 317.4L314.4 342.8L301.8 350.2L315.9 346.3L375.6 320.8ZM371.5 318.4L358.9 322L334.3 332.8L326.1 338.3L335.7 336L360.3 325.2ZM374.3 313.2L366.7 315.8L318.9 339L310.6 344.2L319.8 340.9L367.6 317.6ZM370.5 314.6L363.1 316.5L314.8 337.9L295.6 347.8L315.8 340.2L364.1 318.8ZM372.1 313.3L366.9 314.4L316.1 334L293.1 343.8L316.7 335.7L367.6 316.1ZM376.5 310.1L364.3 313.8L311 335.2L297.2 341.9L311.8 337.2L365.1 315.8ZM358.6 314.8L352.5 315.4L322.1 327.6L315.9 332L323.4 330.8L353.8 318.6ZM367.4 308.9L352.9 313.4L328.9 324.1L322.3 329L330.4 327.4L354.4 316.7ZM367.3 307.2L356.9 310.1L319.7 325.2L313.1 329.3L320.7 327.5L357.8 312.4ZM360.3 309.5L353.4 310.3L321.9 321.2L309.7 327L322.9 324L354.4 313.2ZM368.8 305.5L361.7 306.5L306.5 326.4L301.4 329.8L307.5 329.2L362.7 309.3ZM364.6 304.3L358.4 305.7L316.9 322L307.8 326.6L317.6 323.8L359.1 307.5ZM358.5 305.8L353.2 305.4L307.9 319.7L299 324.6L309.1 323.6L354.5 309.3ZM376.3 294.3L365.9 297.3L307.6 320.9L298.4 325.8L308.5 323L366.7 299.4ZM364.5 300.1L351.4 303.4L309.9 317.3L303.7 320.6L310.6 319.5L352.1 305.5ZM377.2 293.4L367.2 295.9L306.4 317.2L291.5 323.3L307 318.9L367.8 297.6ZM360.9 298.2L350.3 299.3L316.8 308.9L299.9 315.8L317.9 312.7L351.4 303ZM365.4 292.4L349.9 296L312.4 310.2L304.5 315.4L313.8 314.1L351.4 299.9ZM364 293.1L357.8 293L317.2 306.7L309 311.7L318.5 310.7L359.2 297ZM376 289.7L368.8 290.1L307.9 306.1L293.3 311.5L308.7 309L369.6 293ZM371.2 286.8L364.3 286.8L308.8 305.1L284.2 315.5L310.1 309.2L365.6 290.9ZM365.3 288.5L361 288.9L311.2 303.5L298.6 308L311.6 305.1L361.5 290.5ZM370.5 283.7L357.3 285.9L312.1 301.1L304.9 305.8L313.4 305.2L358.6 290ZM372.8 282.9L357.5 285.8L311 299.6L305.2 303.1L312 302.8L358.4 289ZM370.4 280L355.5 283.5L306.5 299.8L282.6 309.3L307.4 302.5L356.4 286.2ZM356.9 283.6L349 284.3L323.7 291.1L313 295.5L324.4 293.9L349.8 287ZM365.9 280.8L355.2 281.6L305.3 293.4L298 296.8L306 296.6L355.9 284.8ZM349.2 281.8L343.9 281.5L312 290.7L289 299.1L313 294.1L344.9 284.9ZM367.6 277.7L354.8 279.2L309.9 290L303.5 293.1L310.6 292.9L355.5 282.1ZM368 275.8L355 276.5L311.8 285.9L292.3 292.4L312.7 290.1L356 280.7ZM367.4 275L360.6 275.3L298.9 288.9L285.4 293.1L299.4 291.2L361.1 277.6ZM359.2 273.1L353.5 273.7L299.8 288.5L290.3 292.1L300.3 290.3L354 275.4ZM352.8 274L341.1 274.9L313.3 281.5L288.9 289.2L314.1 285L341.9 278.4ZM351.7 274.1L338.8 274.6L313 279.5L304.7 283L313.7 283.2L339.5 278.3ZM366 269.2L349.5 271L297.1 280.6L288 283.5L297.6 282.9L349.9 273.4ZM361.3 265.7L349.7 267.4L291.7 282.2L276.7 287.3L292.3 284.6L350.3 269.8ZM355.4 266.4L350.9 265.3L299.7 278.4L290.3 283.1L300.8 282.7L352 269.5ZM356.1 266L350 265.8L287.6 278.4L275.6 282.2L288.2 281.2L350.5 268.6ZM345.6 267L339.3 266.8L310.9 271.4L303.9 273.8L311.3 273.8L339.7 269.2ZM353.3 262.3L344.1 262.3L300.1 270.9L275.7 277.4L300.8 274.4L344.8 265.8ZM365.4 260.3L350.9 260.6L294.6 268.8L287.6 271.6L295.2 272.4L351.4 264.2ZM349.4 259L336.7 260L308.2 266L291.4 271.2L308.8 269.2L337.4 263.2ZM354.3 257.3L339.9 258.8L304.8 265.3L288.6 269.5L305.3 267.6L340.3 261.1ZM358.8 254.4L343.1 256.2L294.3 265.6L285 268.7L294.8 268L343.5 258.6ZM360.2 255.5L346.8 255.9L289.3 263.5L263.8 268.1L289.7 266L347.1 258.5ZM338.4 256.5L333.5 255.2L304.8 259.5L288.9 264L305.4 263.6L334.1 259.2ZM356.1 250.8L345.2 250.9L300.5 259L287.9 263.2L301.2 262.7L345.8 254.6ZM350.3 252.3L342.9 251.7L298.7 256.7L279.3 260.4L299 259.6L343.2 254.6ZM358 248.7L341.9 249L299.1 253.8L274.1 258L299.5 256.7L342.2 251.9ZM370.3 243.7L354.5 245L291.4 255.4L283.6 258L291.8 257.9L354.9 247.5ZM346.1 245.6L337.6 245L295.4 251.2L273.4 256.4L296 255L338.2 248.7ZM348.9 245.4L337.8 244.8L306.1 248.5L283.3 253.1L306.5 252.2L338.3 248.5ZM355.3 244.6L338.6 243.5L303.6 245.7L295.9 248.2L303.9 249.8L338.8 247.6ZM346.1 241.4L338.3 241.4L289.5 247.5L274.4 250.4L289.8 249.6L338.6 243.4ZM356.9 237.8L348.3 236.6L291.4 243.5L281 246.9L291.9 247.8L348.9 240.9ZM347.8 239.6L334.1 238.2L301.8 239.6L289.2 242.1L302 243.5L334.2 242.1ZM359.8 237.8L347.8 236.3L292.5 238.7L268 241.7L292.6 242.7L348 240.3ZM345.8 236.7L337.2 235.8L297.1 238.1L279.3 240.5L297.2 240.9L337.3 238.6ZM347.3 234.8L331.3 233.4L296.2 234.4L273.7 236.9L296.3 238.1L331.4 237.1ZM349.6 232.6L334.6 231.7L294.3 234.7L286.3 237.2L294.6 238.6L334.9 235.6ZM348.8 229.3L342.9 228.2L283.2 233.8L258 237.9L283.5 237.2L343.2 231.6ZM345.9 228.9L337.5 228.2L294.2 230.7L272.1 233.1L294.3 233L337.6 230.5ZM345.3 227.8L338.6 226.4L300.4 229.1L278.1 232.5L300.6 232.8L338.8 230.1ZM362.6 228.1L346.2 226.5L289.3 226L277.3 227.4L289.3 228.9L346.2 229.4ZM360.5 224.4L349 223.2L289.2 224.7L281.7 226.4L289.3 227.8L349 226.3ZM347.5 222.6L340.7 221.2L289.2 224.1L276.2 226.6L289.4 227.7L340.9 224.7ZM360.7 222.6L347 220.4L298.4 219.5L277.6 221.1L298.3 223.4L347 224.3ZM363.2 220.1L348.8 218.9L294.1 219.9L284.1 221.6L294.2 222.8L348.8 221.8ZM341.2 218.7L333.2 217.1L299.8 217.1L287.4 218.6L299.8 220.2L333.2 220.3ZM371.7 217.7L354.8 215.4L291.8 214.6L274.4 216.5L291.7 218.8L354.7 219.6ZM353.6 217.3L337.7 214.3L298.1 212L282.2 213.1L297.9 216.1L337.4 218.4ZM347 213.6L341.1 212L293.7 212.2L274.8 214L293.7 215.6L341.1 215.3ZM354.4 212.3L344.3 210.5L298.7 210.6L286.3 212.5L298.7 214.3L344.3 214.2ZM348.6 212.5L336.9 210L304.6 208.2L279.8 208.7L304.4 211.9L336.7 213.7ZM351.6 208.1L336.7 207.2L300.6 207.4L266.7 208.5L300.6 209.3L336.7 209.2ZM343.9 207L333.9 204.9L302.9 204.3L283.8 205.8L302.8 208L333.9 208.6ZM355 206.3L343 205.1L301.5 204.4L289.6 205.1L301.4 206.3L343 207ZM345.2 205.2L335.1 202.5L302.5 200.8L287.6 202.2L302.3 205.1L334.9 206.8ZM339.1 203.2L332.9 201.5L301.8 200.1L294.8 201.1L301.7 202.8L332.8 204.3ZM353.4 203.9L344.5 202.1L292.2 196.7L283.5 196.6L292 198.4L344.3 203.8ZM358.1 201.7L342.4 198.6L292.4 194L278.3 194.3L292.1 197.2L342.1 201.8ZM336 197.4L327.4 195L296.3 193L272.6 193.1L296 196.5L327.2 198.6ZM341.1 195.8L334.8 194.5L293.6 191.5L285.8 191.8L293.5 193.2L334.7 196.2ZM349.7 196L334.2 192.9L294.7 189.3L281.7 189.8L294.3 192.7L333.9 196.3ZM353.3 196.7L339.4 193.4L290.6 186.4L279.5 186.2L290.2 189.1L339.1 196ZM351.8 194.3L334.6 191L296.4 185.7L287.6 185.4L296.2 187.5L334.4 192.8ZM336.9 190.6L329.7 187.7L302.2 184.4L281 184.1L301.7 188.7L329.3 191.9ZM357.4 188.6L347.9 186.5L286.3 181.5L276.8 182.1L286.1 184.2L347.7 189.2ZM357.8 187.3L336.5 183.7L287.8 179.4L277.8 180.2L287.5 182.8L336.2 187.1ZM353.9 187.5L341.4 184.5L292.4 178.6L266.3 177L292 181.5L341.1 187.4ZM365.3 187.1L348.6 184L285.3 176.2L264.9 174.8L285.1 178.3L348.4 186.1ZM354.8 184L342.3 180.6L296.4 174L290.2 174.8L296 177.3L341.8 183.8ZM343.9 179.8L335 177.1L296.5 172.6L271 171.2L296.2 175.8L334.6 180.3ZM347.4 181.6L343.6 180L291.9 170.3L269.6 167L291.5 172L343.3 181.7ZM353 180.1L340.1 175.7L292.9 167.4L278.7 167L292.2 171.6L339.4 179.9ZM352.2 178.8L337.2 173.8L301.7 167L279.4 165L300.9 171.3L336.4 178.1ZM345.8 176.7L334.4 172.9L299.4 165.2L290.6 164.5L298.9 167.6L333.9 175.3ZM348.8 174.6L343.2 171.9L288.8 162.4L267.2 160.3L288.2 165.7L342.6 175.1ZM356 172.5L351 169.8L295.8 160.5L276.3 159.1L295.2 164.1L350.4 173.4ZM343.6 169.3L333.6 166.2L304.7 160.9L284.1 158.3L304.3 163.3L333.2 168.6ZM357.7 172.1L348.7 168.4L285.9 153L268.5 150.3L285.2 155.9L348 171.3ZM343.7 168.1L338.6 165.8L295.9 154.7L275 150.2L295.5 156.5L338.1 167.6ZM345.8 165.5L334 162L304 155.6L290.7 153.6L303.6 157.3L333.6 163.8ZM352.1 165.4L348.1 162.8L288.7 150.6L273.4 149.3L288 154.2L347.4 166.4ZM353 162.3L338.9 158.2L308.6 152.2L300.6 151.9L308.1 154.7L338.4 160.7ZM355.5 164.1L349 160.5L294.8 144.8L270.5 139.5L293.9 148L348.1 163.7ZM357.5 162.5L343.4 156.8L298.5 144.6L275.6 140.3L297.6 148.1L342.5 160.2ZM366.2 162.4L350.5 157.1L294.1 143.6L269.4 139.4L293.4 146.7L349.7 160.2ZM356.2 159.2L346.6 154.8L304 143.5L292.8 142.5L303 147.1L345.6 158.4ZM354.9 156.6L339.4 150.5L300.6 140.9L274.6 136.6L299.5 145L338.4 154.7ZM343.7 152.9L337.9 149.3L312.5 141.2L304.4 140.3L311.5 144.3L336.9 152.4ZM367.1 157L355.7 152.3L295.3 134.8L278.6 131.4L294.5 137.3L355 154.8ZM354.2 150.6L338.4 145.2L304.2 136.9L291.2 135.3L303.4 139.9L337.6 148.2ZM365.6 150.8L350.2 146.1L299.2 133.7L273.3 128.2L298.8 135.3L349.8 147.8ZM351.5 148.6L341.2 143.4L305.3 131.4L299.5 131.3L304.2 134.6L340.2 146.5ZM358.9 148.9L345.3 142.6L314.1 133.1L306.3 132.9L312.9 137L344.1 146.5ZM356.4 146.8L344.3 141.7L305 128.4L298.3 127.2L304.3 130.3L343.7 143.6ZM362.2 146.9L350.8 141.3L312.9 128.6L288 122.1L311.8 131.8L349.7 144.5ZM358.6 142.4L350.6 139L305.1 126.1L281.3 120.4L304.5 128.1L350 141.1ZM353.3 138.2L343.6 133.9L312.8 125.3L295.5 122.1L312 128.3L342.7 136.9ZM360.6 141.1L347.7 135.8L314.6 124.8L304.4 122.4L314 126.6L347.1 137.7ZM364.2 142.1L358.4 138.2L306.5 117.8L287.7 112L305.4 120.6L357.3 141ZM351.4 134L347.1 131.1L320.4 121.6L301.8 116.3L319.5 124L346.2 133.5ZM355.5 132.2L348.4 128.4L318.2 118.6L306.2 116.2L317.3 121.3L347.5 131.1ZM377.6 138.8L362.3 132.5L306.1 114.5L297.5 113.1L305.3 117L361.5 135ZM355.8 131.5L350.5 128.1L308.3 110.3L290 103.6L307.6 112.1L349.8 129.9ZM358.4 129.9L352.6 126.5L313.6 112.8L306.4 111.6L312.8 115.2L351.8 128.9ZM367 133.1L352.2 124.2L314.2 107.5L300.1 103.7L312.4 111.5L350.4 128.2ZM356.7 127.7L351.2 123.9L310.1 105.7L291.8 98.9L309.1 108L350.2 126.2ZM353.7 123.6L345 117.8L316.7 104.7L308.7 102.9L315.3 107.7L343.7 120.8ZM359.7 124.9L355.2 121.6L302.6 98.9L284.9 92.8L301.5 101.3L354.1 124ZM360.6 122.9L346 114.4L312.4 99.9L295 94.5L310.8 103.6L344.4 118.1ZM358.9 121.5L352.5 117.1L303.6 94.2L290.9 89.7L302.5 96.6L351.4 119.5ZM372.7 125.4L360.7 117.6L305.3 90.5L283.4 81.6L303.8 93.6L359.2 120.7ZM364.4 117.7L355.5 112.3L312.7 94.9L300.6 91.7L311.4 97.9L354.2 115.4ZM360.9 116.7L352.9 111.5L311.8 91.8L293.8 84.6L310.7 94L351.9 113.7ZM358.7 112.2L352.6 108.1L310.4 89.4L287.2 80.4L309.4 91.6L351.6 110.4ZM364.6 113L352.8 106.3L311.9 88L302.5 85.2L310.9 90.3L351.8 108.6ZM355.3 107.6L349.8 103L319.4 87.9L299.1 79.7L317.9 90.9L348.3 106ZM361.1 109.8L358.2 105.9L322.6 87.5L298.9 77.8L320.6 91.4L356.2 109.7ZM365.2 109.1L352.8 101.8L325.7 88.8L306.5 80.8L324.7 91L351.7 104ZM377.6 111.4L364.6 103L310.6 78.4L296.5 74.3L308.8 82.3L362.8 107ZM383.8 113.5L370.7 105.8L314.2 79.7L302.5 75.9L313 82.3L369.6 108.4ZM371.6 104.5L357.7 96.9L330 84.4L316.2 79.5L329 86.5L356.8 99.1ZM364 100.3L356.7 95L333.1 83.7L313.1 76.1L331.6 86.8L355.3 98.1ZM371.8 104.4L365.5 99.7L321.4 76.2L312.5 72.7L320.3 78.2L364.4 101.7ZM366.7 97.9L359.8 93.3L335.4 81.1L318.1 73.7L334.5 83L358.9 95.1ZM379.2 102.9L366.1 94L330.2 75.8L322.5 74.1L328.4 79.4L364.3 97.6ZM372.4 99.9L361 91.1L337.7 76.8L318 66.4L336.1 79.3L359.4 93.6ZM374.4 99.4L364.7 92.1L334.7 74.2L315.5 64.4L333.3 76.6L363.3 94.4ZM384.2 100L376 94.8L326.4 69.5L297.6 55.8L325.6 71L375.2 96.4ZM379.1 96L370.7 89.1L332.7 69L321.7 65.6L330.6 72.8L368.7 92.9ZM381.1 96.5L368.7 87.6L333.9 66.7L324.9 62.9L332.5 69L367.4 89.8ZM379.7 92.7L366.1 83.4L340.7 69L322.7 60.3L339.4 71.2L364.8 85.7ZM385 95.1L372 84.9L336 62.4L324.3 57.1L334.2 65.3L370.2 87.8ZM381.1 88.9L369.4 80.4L338.6 63.6L324.7 58.2L336.8 66.9L367.7 83.7ZM383.1 91.1L372.9 83.4L328.1 54.9L314.3 47.5L326.9 56.8L371.7 85.2ZM382.4 87.7L378.2 83.5L334.7 55.9L318.8 47.3L333.3 58.1L376.8 85.7ZM380.4 86.3L376.5 81.7L334.7 53.6L324 48.5L332.8 56.4L374.6 84.5ZM387.4 89.4L376.2 79.7L340.8 54.4L326 45.7L339.1 56.8L374.5 82ZM379 78.8L369.8 70.9L344.2 55L338.3 53.4L342.3 58.1L367.9 74ZM393.4 88.1L385.7 80.3L337.2 46.8L331.5 45.3L335 50.1L383.4 83.6ZM386.4 79.6L372 68.7L343 50.8L327.4 43.2L341.2 53.7L370.2 71.6ZM389.1 83L377 72.5L347 50.8L326.6 37.9L345.3 53.2L375.3 74.9ZM392.6 83.8L382.8 74.4L335.9 39.7L320.1 30L333.9 42.4L380.8 77.1ZM390.2 79.8L379.5 70.4L343.6 44.2L331 36.5L342.2 46.2L378 72.4ZM394.9 79.1L388.3 72.7L344.5 41.5L335.7 36.9L342.9 43.7L386.7 74.9ZM401.1 83.4L390.9 74.2L346.1 40.4L326.6 27.4L344.5 42.5L389.3 76.3ZM390.9 71.4L387 66.4L348.2 40L327.1 27.9L346 43.1L384.8 69.6ZM395.3 74.2L392 70L345.2 34.9L335.7 29.4L343.6 37.1L390.3 72.1ZM389.5 68.9L379.1 58.9L358.3 43L349 38L356.3 45.7L377 61.5ZM393.1 70.1L382 59.6L352.3 36.4L334.5 24.3L350.5 38.7L380.2 61.8ZM390.7 63.7L384.5 56.5L360.4 38.4L346.7 30.5L358 41.6L382 59.7ZM395.3 68.5L391.3 63.2L353.4 31.8L340.9 23.4L351.5 34.2L389.3 65.5ZM383.9 57L381.2 53.3L355 31.6L338 19L353.5 33.3L379.7 55ZM391.8 60.5L383.6 52.5L356.3 30.2L341.4 19.2L355.1 31.7L382.4 54ZM403.6 65.5L393.4 56.5L355.2 27.2L348.9 23.6L354.1 28.7L392.3 58ZM392.5 57.7L385.5 49.9L363.1 30.7L354.4 24.9L361.4 32.7L383.7 52ZM392.5 52.7L390.6 48.5L363 26.9L346.5 16.8L360.3 30.3L387.9 51.9ZM405.1 63L389.2 47.9L356.3 20.8L345.1 13.5L354.4 23.1L387.2 50.2ZM403.1 59.5L396.4 51.8L351.6 12.6L344.1 7.8L349.8 14.7L394.5 53.9ZM401.8 57.4L395.5 48.6L359.8 14.8L346.3 4.8L357 17.7L392.7 51.6ZM406 59L396.1 47.6L357.9 13.1L345.8 4.4L355.5 15.7L393.7 50.3ZM406.7 55.5L398.2 46.1L358.2 12.1L352.9 9.7L356.1 14.6L396.1 48.6ZM402.7 51.6L393 41.1L365.4 15.5L356.4 8.4L364 16.9L391.6 42.6ZM398.5 44.7L389.5 34.7L369.2 16.7L358.6 9.4L367.1 19L387.5 37ZM409.4 51.7L398.4 39.1L369.7 13.9L358.5 6.9L366.8 17.1L395.5 42.4ZM409.6 48.3L400.5 37.7L368.9 10.1L357 2.3L366.3 13.1L397.9 40.8ZM403.8 41.6L400.7 36.1L372.8 11.3L359.7 2.3L370.1 14.3L397.9 39.1ZM407.3 41.8L401.2 34L380.4 15.9L361.2 1.6L378 18.6L398.8 36.7ZM418.4 48.5L409.3 38.6L380.5 13.3L375.4 10.8L378.5 15.5L407.4 40.8ZM408.1 40.1L405.7 35.1L384.4 14.8L376.5 9.9L381.7 17.6L403 38ZM419.2 50.9L417.3 46.4L376 2.7L354.9 -17.2L373.6 4.9L414.9 48.6ZM425.7 53L418.2 44.1L379.5 6.1L364.6 -7L377.9 7.7L416.6 45.7ZM416.6 40.2L411.8 34.2L383.8 8L364 -9L382.2 9.7L410.2 35.8ZM423.6 48.5L419.3 40.5L382.2 -0.6L371.6 -9.2L379 2.3L416 43.4ZM420.7 41.7L412.3 29.7L387.7 2.4L374.7 -9.5L385.2 4.7L409.7 32ZM429 48.8L425.8 43.2L384.6 -2.1L376.6 -8.7L382.4 -0.1L423.6 45.2ZM421.3 37.6L413.9 26.8L392.7 4.8L378.5 -6.9L389.6 7.8L410.8 29.8ZM433.6 46.2L425.1 35.4L386.8 -3.3L372.8 -15.3L384.6 -1.2L422.9 37.6ZM433.2 46.1L423.5 32.2L385.5 -11.4L374.5 -21.1L382.7 -9L420.7 34.6ZM429.6 40.2L425.8 33.6L385.8 -13.6L371.1 -28.8L383.7 -11.9L423.8 35.4ZM428.4 33.2L425.1 27.8L388 -10.7L381.3 -15.7L386.1 -8.9L423.2 29.6ZM428.6 33.9L419.4 21.9L395.7 -4.3L386.9 -12.2L393.9 -2.7L417.6 23.6ZM430 32.7L424.1 24.6L395.8 -6.2L379.7 -22L394.1 -4.6L422.3 26.1ZM437.9 39.8L431.8 29.7L395.2 -11.6L383.5 -21.5L392 -8.7L428.6 32.6ZM429.6 26.8L421.4 14.1L401.2 -10L396.3 -13.1L398.4 -7.7L418.6 16.4ZM434.2 31.5L430.9 24.6L400.9 -13.3L391.6 -22.6L398.4 -11.3L428.3 26.6ZM444.5 37.6L435.8 25.8L393.1 -21.8L381.1 -33.1L391.1 -20L433.7 27.6ZM442.3 35.8L435.5 25.3L394.6 -24.3L381.8 -37.6L392.4 -22.5L433.3 27.1ZM435.9 23.2L429.6 12.7L409.3 -10.7L393.8 -25.4L406.2 -8L426.5 15.4ZM441.2 28.5L431.9 15L405.9 -15.4L388.3 -33.4L403.3 -13.2L429.3 17.2ZM437.2 20.6L432.7 11.5L414.3 -11.6L409.3 -14.5L411 -9L429.4 14.2ZM440 22.2L437 15.6L406.2 -24.3L398.1 -32.1L403.5 -22.2L434.3 17.7ZM448 32.7L443.4 23.2L403.6 -30.9L393 -42L400.5 -28.5L440.2 25.5ZM446.5 23L440.5 13L408.5 -26L403.8 -29L405.8 -23.8L437.9 15.1ZM446.9 22.2L442.4 14L413.1 -22.3L407.4 -26.8L410.5 -20.2L439.8 16ZM452.1 31.9L445.4 19.7L408.1 -35.8L403.8 -40L406.1 -34.4L443.3 21.1ZM445.1 15.3L439.5 5L417.6 -24.3L408.7 -33.3L414.9 -22.3L436.9 7.1ZM453.4 27.1L443.6 9.9L415.5 -31.1L405 -43.7L412.9 -29.3L440.9 11.7ZM452.3 19.3L445.7 8.9L418.5 -28.3L408.6 -40.4L417.1 -27.3L444.3 9.9ZM455.4 20.6L453.9 16.3L418.9 -31.2L407.2 -44.8L416.7 -29.5L451.7 17.9ZM454.1 16.8L451 8.9L420.8 -32.7L409.3 -45L417.3 -30.2L447.5 11.4ZM456.8 17.1L449.8 4.3L425.3 -28.3L418.5 -33.8L421.9 -25.8L446.4 6.8ZM459.3 18.7L457.3 12.5L418.7 -39.8L404.2 -56L415.4 -37.3L453.9 15ZM452.5 8.6L449.7 0.9L432 -25.9L420 -40.6L428.8 -23.8L446.5 3ZM456.7 14.7L453.9 8.4L422.7 -43.2L409.8 -63L421.3 -42.3L452.5 9.3ZM464.9 23.3L458.8 10.6L429.1 -39.4L419 -53.8L426.9 -38.1L456.6 11.9ZM464.9 17.9L459 6.3L430 -40.1L417.4 -57.9L428 -38.8L457 7.6ZM461.5 13.1L459.5 5.9L427.3 -48.4L416.1 -63.6L424 -46.5L456.2 7.9ZM464.5 12L457.8 -0.3L437.2 -32.6L428.7 -44L435.5 -31.5L456.1 0.7ZM464.3 10.4L457.7 -5.1L443.2 -31.1L438.4 -36.1L440.2 -29.4L454.6 -3.4ZM460.3 -0.2L457.6 -8.4L443.2 -32.5L436.6 -39.8L440 -30.5L454.3 -6.5ZM467.8 7.1L464.7 -0.3L442.3 -36.5L435.7 -44.7L440.1 -35.1L462.5 1.1ZM467.7 7L464.9 -1.7L443 -42.8L430.8 -62.4L440.2 -41.3L462.1 -0.2ZM467.9 3.7L464.6 -6.5L449 -33.4L437.1 -49.6L445.2 -31.2L460.8 -4.3ZM474.3 12.7L471.9 3.9L441.4 -51.9L436 -57.3L437.7 -49.9L468.2 5.9ZM472.2 4.6L469.2 -4.9L450.2 -38.7L441.5 -49.9L446.6 -36.6L465.5 -2.9ZM482.3 21.9L477.6 10.5L448.5 -47.5L437.8 -66.8L446.9 -46.7L476 11.2ZM479.7 13.4L477.7 6.9L450.3 -47.7L440.5 -64.8L448.3 -46.7L475.7 7.9ZM483 18.6L481.9 11.5L453 -49.2L445.9 -59.4L449.3 -47.5L478.2 13.3ZM483.5 8.1L476.8 -6.7L460.6 -36.6L451.7 -50.4L458.5 -35.4L474.7 -5.5ZM488 19.2L485 8.1L456.7 -53.1L449.6 -64L453.3 -51.5L481.5 9.7ZM484.8 5.1L481.3 -5.5L460.5 -45.6L450.3 -61.4L457.3 -44L478.1 -3.8ZM486.1 5.1L483.9 -2.3L462.2 -50.5L455.6 -62.4L460.2 -49.6L481.9 -1.4ZM490.3 3.9L485.1 -9.8L466.1 -46.5L457.1 -60.4L463.2 -45L482.2 -8.3ZM493.4 3.7L489.4 -8.1L466.5 -51.5L461.6 -56.6L463 -49.7L485.9 -6.3ZM493.4 8.5L489.2 -4.3L465.4 -58.8L460 -68.1L463.2 -57.8L486.9 -3.2ZM493 5.5L488.2 -8.3L468.9 -55.3L459 -77.1L467.3 -54.6L486.6 -7.6ZM493.1 2L489.2 -11.6L472.4 -51.3L466.7 -60.8L469.5 -50.1L486.2 -10.3ZM497 4.5L496 -2.5L473 -56.9L464 -73.2L469.5 -55.4L492.6 -1ZM497.7 0.2L493.7 -12.7L478.3 -51.4L471.5 -65.8L476.5 -50.6L491.8 -12ZM506.5 1.3L504.2 -6.4L479 -63.1L475.9 -67.2L476.9 -62.1L502.2 -5.5ZM508 6.8L504.3 -7L483 -68.9L477 -83.3L481.1 -68.3L502.3 -6.4ZM510.5 9.7L507 -5.5L485.6 -67.8L482.4 -72.4L482.7 -66.8L504 -4.5ZM520.7 2.2L518.5 -11.2L502.8 -65.8L494.4 -89.2L499.7 -64.9L515.4 -10.3ZM523.5 0.4L522.8 -7.4L500.8 -69.7L497.3 -74.3L497.4 -68.4L519.3 -6.1ZM540.5 4.7L537.9 -13.4L524.3 -81.2L520.8 -94L522.5 -80.8L536 -13ZM541.6 2.1L539.9 -13.9L528.5 -78.2L523.3 -100.4L526.1 -77.8L537.6 -13.5ZM546.6 5.1L544.8 -11.3L531.8 -77.6L528.4 -87.9L529.1 -77L542.1 -10.7ZM593.7 -1.9L596.6 -13.4L600.9 -83.2L600.3 -108.8L596.6 -83.5L592.3 -13.7ZM596.6 2.3L598.3 -14.4L600.4 -85.7L599.8 -107.3L598 -85.8L595.9 -14.5ZM599.2 -1.3L600.4 -17.5L601.9 -86.1L601.5 -106.2L600.2 -86.2L598.7 -17.6ZM620.9 -1.4L624.5 -16.9L636.2 -84.6L638.3 -101.7L634.5 -84.9L622.8 -17.2ZM626.4 0.4L630.3 -8.4L643.9 -78.8L645.1 -96.6L639.6 -79.6L626.1 -9.3ZM631.3 0L634.3 -10.1L646.3 -81.4L647.8 -97.9L643.7 -81.8L631.7 -10.5ZM650.6 4.1L657.1 -8.5L680.2 -77.2L682.4 -90.6L676.1 -78.6L653.1 -9.8ZM655.6 4.9L662.1 -10.7L679.4 -69.2L683.7 -89.9L676 -70.2L658.7 -11.7ZM665.7 3.5L669.6 -4.1L687.6 -67.3L687.3 -72.4L684.5 -68.2L666.4 -5ZM667.5 0.7L671.7 -6.1L688.8 -61L692.6 -80.4L684.8 -62.2L667.8 -7.3ZM663.7 7.7L668.6 -0.2L693.7 -68.3L694.6 -76.2L690.2 -69.6L665.1 -1.5ZM667.7 9L671.8 1.3L693.2 -63.9L697.3 -81.3L690.4 -64.8L669 0.3ZM669.7 2L677.7 -12L693.4 -49.5L697.9 -65.3L689.7 -51.1L674 -13.5ZM671.7 6.9L675.4 1.7L699 -62L700.3 -70.2L695.9 -63.1L672.3 0.5ZM670.6 6.8L676.9 -2.4L701.4 -58.3L703.2 -67.7L697.5 -60L673.1 -4.1ZM682.4 7L686.8 -1.8L706 -53.4L708.4 -62.7L704.1 -54.1L684.9 -2.5ZM677.9 12.5L686.5 -1.8L710.2 -54.3L716.8 -73.4L706.7 -55.9L683 -3.4ZM679.5 13.9L684.5 8.1L716.2 -57.3L718.2 -65.8L712.7 -59L681 6.4ZM692.6 -1.9L697.6 -7.6L711.9 -38.3L717.2 -54.9L708 -40.2L693.7 -9.4ZM688.8 12.3L693.8 4.8L720.2 -57.4L723 -68.4L717 -58.7L690.7 3.5ZM689.1 9.9L696.6 -1.1L719.5 -46L720.1 -50.8L716.6 -47.6L693.6 -2.6ZM696.9 -0.4L701.7 -6.2L719.9 -44.2L723.6 -56.3L716.5 -45.9L698.3 -7.8ZM684.1 24.5L694.4 7L725.7 -52L734 -69.6L724.1 -52.9L692.8 6.2ZM694.9 10.4L702.3 -0.3L724.4 -44.1L725.9 -50.8L721.3 -45.7L699.1 -1.9ZM700.1 -0.3L703.6 -3.3L723.4 -39L729 -52.5L720.6 -40.6L700.9 -4.9ZM699.6 6.8L706.8 -4.6L726.3 -41.7L734.3 -59.4L724.4 -42.7L704.9 -5.6ZM694.6 20.8L702.5 9.3L735.1 -53.8L739.4 -65.9L732.1 -55.4L699.4 7.7ZM698.6 18.1L705.1 8.1L734.1 -52.2L734.7 -57.2L731.2 -53.6L702.3 6.7ZM702.2 16.1L708.8 5.6L738.9 -55.8L747.8 -77L736.5 -56.9L706.4 4.4ZM709.1 4.8L713.9 0.7L736.3 -37.5L743.8 -54.6L732.7 -39.6L710.3 -1.4ZM705.8 13.6L715.6 0.6L741.9 -46.4L749.4 -64.3L738.1 -48.5L711.8 -1.5ZM710.4 9.7L718 -0.3L740.7 -38.2L747.4 -52.3L738.2 -39.7L715.6 -1.8ZM707.5 15.3L715.1 5.2L741.7 -38.6L743.3 -43.6L739.6 -39.9L713 3.9ZM707.3 19.3L716.5 7L743.1 -37L754.1 -58.2L740.5 -38.5L714 5.4ZM711.4 15.6L715.7 11.6L747.8 -40.1L751.3 -48.6L745.2 -41.7L713.1 10ZM717.1 12.4L720.7 9.5L747.1 -38.1L754.6 -55.3L744.1 -39.8L717.7 7.8ZM709.7 26.1L717.9 16.6L752.5 -39.5L758 -52.2L749.1 -41.6L714.5 14.5ZM721 10.4L727.2 3.3L749 -31.4L757.3 -47.5L746.4 -33L724.7 1.7ZM715 22.1L723.1 11.9L748 -26.4L754 -37.5L746.1 -27.6L721.1 10.6ZM712.9 32L722.3 18.2L757.4 -42.8L760.5 -50.7L755.1 -44.1L720 16.9ZM716.7 28.7L725.6 17.5L757.9 -37.8L760.4 -46.1L754.4 -39.8L722.1 15.5ZM722.5 21.2L729.3 14.3L754.5 -25.6L760.1 -38.3L751 -27.8L725.8 12.1ZM716.2 26.5L724.7 17.2L759.4 -30.4L766.2 -42.2L757 -32.1L722.3 15.5ZM725.4 17.5L733.8 9.6L752.6 -16.7L760 -30.8L749.1 -19.2L730.2 7.1ZM722 30.8L729.5 22.3L762.8 -30.1L770.5 -45.5L759.9 -32L726.5 20.4ZM715.8 43.1L725.7 29.8L762.1 -28.3L765.6 -36.3L759.9 -29.7L723.5 28.5ZM720.9 31.8L731.3 20.8L760.2 -16.6L766.7 -27.4L757.9 -18.4L729 19ZM729.3 27.2L733.6 23.1L761.4 -20.2L763.5 -26.2L758.9 -21.7L731.2 21.5ZM722.7 35.7L726.6 32.9L768.9 -22.8L776.4 -35L766.6 -24.5L724.3 31.1ZM728.4 30.8L735.6 22.7L763.9 -15.9L768.1 -23.3L762.3 -17.1L733.9 21.5ZM735.5 24.7L744 15.1L762.2 -10.6L766.6 -19.3L759.8 -12.2L741.7 13.4ZM727.5 35.9L734.5 29.5L771.5 -17.9L779.6 -30.9L769 -19.9L732 27.5ZM741.3 22.4L746 19L765.8 -8.1L768.1 -14.1L763 -10.1L743.2 17ZM738.6 27L743.5 22.8L769.5 -8.8L772.5 -14.4L767.6 -10.3L741.7 21.3ZM732.2 37.7L741.1 28.7L777 -16.1L785.9 -29.5L774.8 -17.8L739 27ZM735 38.7L741.1 32.2L781.6 -23.8L786.4 -32.4L779.8 -25.2L739.2 30.8ZM730.1 49L740.6 36.2L784.2 -22.8L794 -37.5L782.8 -23.9L739.2 35.2ZM740.4 37.3L749.1 28.7L784.5 -17.1L789.8 -26.6L782 -19L746.5 26.8ZM739.4 39.5L750.4 28.5L784.4 -16L788 -24L781.3 -18.4L747.2 26.1ZM749.6 30L753.6 26.7L781 -8.5L787.2 -18.3L779.2 -9.9L751.8 25.3ZM748 32.6L756.6 23.8L782.4 -7.2L789.1 -16.9L780.8 -8.5L755 22.5ZM745.1 40.7L752.1 34.2L787.1 -8.6L798.8 -25.1L785.1 -10.3L750.1 32.5ZM743.1 41.2L749.8 35.1L795.4 -15.7L803.6 -26.2L794.1 -16.9L748.4 33.9ZM758.1 27.1L762.5 25.3L782.9 2.6L785.6 -3.7L779.7 -0.3L759.3 22.4ZM738.8 53.2L746.5 46.1L794.7 -9.6L810.4 -29.5L793 -11.1L744.7 44.6ZM750.4 38.6L760.8 30.5L788.6 1.9L791.9 -4.1L786 -0.6L758.3 27.9ZM747.6 44.2L759.4 33.9L793 -0.5L803.9 -13.3L791.3 -2.1L757.7 32.2ZM753.6 44L764.5 34.1L794.9 0.4L803.5 -11.3L792.7 -1.6L762.3 32.1ZM744.1 53L759.4 39L798.2 0.5L804.7 -7.4L796.8 -0.9L758.1 37.6ZM745 55.5L755.3 47.6L799.4 0.6L804.9 -8.4L796.3 -2.4L752.2 44.7ZM753.4 49.1L763.7 41.1L797.5 5.9L800 0.5L794.8 3.3L761 38.5ZM758.2 44.7L767.4 38.4L791.8 14.5L803 0.9L789.2 11.8L764.8 35.7ZM764.2 41.1L771.2 36.2L799 9.7L806.7 0.6L797.3 7.9L769.4 34.4ZM762.7 48L770.7 41.4L797.5 11.4L806.2 -0.6L795.2 9.4L768.4 39.3ZM753.1 58.6L766.2 48.4L805.3 9.7L811.9 0.3L802.5 6.8L763.4 45.6ZM760.9 50.9L766.2 47.4L804.5 10.1L809.8 3.3L802.9 8.4L764.6 45.7ZM761.5 51.1L766.4 48.9L810.8 8.9L818.8 -0.6L808.6 6.4L764.2 46.4ZM763.3 52.6L774.1 44.9L802.8 19.3L818.1 3.6L800.8 17.1L772.1 42.7ZM762.4 56.3L769 52.3L817.1 8.1L825.8 -2.1L815 5.8L766.9 50ZM774.5 48.3L781.7 44L807.7 17.1L817.9 3.5L804.6 14.2L778.6 41ZM768.7 57.8L781.3 47.1L803.6 24.7L807.1 19.3L801.7 22.9L779.4 45.2ZM760.5 62.4L769.8 57.3L818.7 15.9L831.6 2.3L816 12.7L767.1 54.1ZM774.4 53.3L781.4 49L810.2 24.4L814.8 18.7L808.5 22.4L779.7 47ZM773.8 57.2L786.1 48.4L811.3 25.5L818.7 16.4L808.9 22.9L783.7 45.8ZM777.5 56.5L784.6 52.5L811.6 27.9L826.7 11.7L809.1 25.2L782.1 49.8ZM769.3 66.1L773.8 63.6L821.3 19.7L829 11L819.6 18L772.1 61.8ZM769.2 64.1L781.9 55.2L818.7 26.2L829.9 16.2L817.6 24.9L780.8 53.9ZM768.2 72L777.1 66.2L816.8 29.5L825.9 18.7L814.5 27L774.8 63.7ZM769 69.7L784.4 59.1L819.1 31.8L831.7 20.5L817.6 30L782.9 57.2ZM759.5 79.5L771.9 72L828.1 27.2L841.8 14L825.8 24.3L769.6 69.1ZM773.1 70L779.6 67.2L821.7 34.1L826.7 27.8L819.5 31.2L777.4 64.4ZM774.9 73.6L779 72L824.8 31.8L831.7 23.7L822.8 29.5L777 69.8ZM779.6 69.7L792.1 62.2L816.6 42.2L827.5 30.5L813.9 38.9L789.4 59ZM773.7 77.5L784.8 70.8L827.5 35.5L833.9 27.6L825 32.5L782.3 67.8ZM774.4 77.9L790.3 68.2L821.4 44.6L827.1 37.8L819.1 41.5L788 65.1ZM782.7 73.4L790 69.3L818.6 47.4L829.7 37.3L817.1 45.5L788.5 67.5ZM777.7 78.7L783.4 76.7L823.5 45.1L835.8 32.9L821.1 42.1L781 73.7ZM779.7 79.4L787.7 75L834.5 39.5L848.5 27.3L833 37.5L786.1 73ZM769.3 86L780.9 79.9L839.6 39.7L844.1 34.8L837.8 37.2L779.1 77.4ZM772.3 88L784.6 80.9L838.1 41L852.9 27.9L836.1 38.4L782.6 78.2ZM775.2 85.6L788.7 77.8L836.6 46L842.7 40.7L835.5 44.3L787.6 76.2ZM780.8 88.3L794.1 79.7L831.3 51L843.8 39.8L829.7 49L792.5 77.7ZM796.5 76.2L803 72.8L828 54.6L836.2 47.4L826.9 53L801.8 71.1ZM788 84.1L800.7 77.1L829.1 56.6L848.1 40.7L827 53.8L798.7 74.3ZM789.9 86.7L803.6 77.7L829.7 58.5L834.8 53.5L828.6 57L802.5 76.2ZM781.3 91.6L793.1 86.4L844.4 53L849.4 47.3L842.2 49.6L790.9 83ZM795 84.2L809 77.3L837.1 59.7L849.3 50.3L835.5 57.2L807.4 74.7ZM793 89.1L799.6 86.7L844.2 55.7L846.3 52.1L842.1 52.7L797.5 83.7ZM790.9 89.9L800.3 86L849.3 56.4L858.2 49.2L847.7 53.8L798.7 83.4ZM796.7 88.6L804.8 86.3L841.1 64.5L847.7 58L838.8 60.7L802.5 82.5ZM789.4 93.9L795.7 92.6L859 55.5L869.3 47.1L857 52L793.6 89.1ZM785.4 97.3L794.6 94.5L853.7 61.2L860.5 55L851.7 57.6L792.5 90.9ZM800.9 93.5L805.1 92.5L844.8 66.4L849.6 61.5L843.2 63.9L803.5 90ZM797.5 96.7L809.6 91.6L845 69.4L858 58.8L842.8 65.9L807.4 88.1ZM794.7 96.8L812.8 88.8L845.6 71.4L856.9 63.9L844.3 68.9L811.5 86.3ZM799.6 98.4L814.3 90.5L843.2 72.6L855.2 63.8L842 70.7L813.2 88.7ZM807.5 93.2L813.8 91.4L844.1 75.7L849.2 71.7L843 73.5L812.7 89.2ZM792.9 105.5L806.4 99.8L847.8 75.3L851.3 71L845.9 72L804.4 96.5ZM788.4 106.9L798.3 103.1L855.3 73.7L868.1 65.8L854.2 71.6L797.3 101.1ZM795.3 106.7L800.1 106.2L857 76.4L865.6 69.8L855.4 73.2L798.5 103ZM789.4 111.5L801.5 106.5L854.5 77.8L857.3 74.8L853.2 75.5L800.2 104.2ZM795.1 111.6L808.8 105.7L862 76.2L874.5 67.7L860.6 73.8L807.5 103.2ZM798.4 110.3L811 104.9L850.8 84L865.2 75.3L849.9 82.2L810 103.1ZM809 108.3L815.1 106.4L857.3 82.5L872.2 72.5L856 80.2L813.8 104.1ZM789.3 115.8L801.2 111.6L866.9 82.2L880.1 75.2L866.1 80.3L800.4 109.7ZM813.8 107.9L819 106.6L854.1 89L866.1 81.6L853 86.9L817.9 104.5ZM800.1 117L805.1 115.5L870.3 82.8L889.5 72.1L869.5 81.1L804.3 113.8ZM815.1 111.6L825.2 107.9L855.3 92.1L875.8 80L854.1 89.8L823.9 105.5ZM800.7 118L813.3 113.7L858.7 92.8L874 84.1L857.5 90.2L812.1 111.1ZM818.5 112.7L824.3 111.4L852.1 96.6L869.4 85.6L850.6 93.9L822.8 108.7ZM813.3 117L818.4 115.4L862.5 93.2L871.6 87.5L861.6 91.5L817.5 113.8ZM792.1 126.2L805.9 122.5L875.1 92.5L879.1 88.4L873.4 88.6L804.1 118.6ZM801.7 125.7L815.8 121.6L862.1 100.4L869.6 94.5L860.3 96.4L814 117.7ZM799.1 130.3L812 125.7L873.3 95.1L880.9 89.5L871.8 92.1L810.5 122.7ZM798.4 128.7L817.1 123.1L860.4 104.9L863.2 101.4L858.7 101L815.4 119.2ZM806.8 129.6L821.3 125L868 103.3L871 99.8L866.4 99.8L819.7 121.5ZM801.2 129.4L813.7 125.9L868.8 104.8L874.2 101.5L867.9 102.6L812.9 123.7ZM806.5 129.9L818.7 126.6L866.7 109.3L876.3 104.7L866 107.2L817.9 124.6ZM803 133.4L818 128.8L870.9 107.8L886.1 100.5L870 105.6L817.1 126.6ZM816.9 128.1L829.3 126.2L860 115.7L867.5 110.9L858.6 111.6L827.9 122.1ZM799.7 136.7L810.4 134.4L881.4 108.9L892 103.5L880.3 106.1L809.4 131.6ZM801.5 140.3L815.2 137.2L874 114.2L878.4 110.1L872.4 110.1L813.6 133.2ZM816.5 136.1L828.2 133.3L858.8 120.1L864.4 115.4L857.1 116.2L826.6 129.5ZM810.4 137.1L819.9 135.5L870.9 119.7L874.1 117.3L870.1 117.2L819.1 133ZM802.4 144.5L816.1 140.2L880 115.1L889.7 110.2L879.2 113.2L815.4 138.3ZM805.5 141.8L821.4 137.6L870.7 121.5L886.8 115.1L870.1 119.6L820.8 135.7ZM807.2 145.7L811.9 145.1L879.1 120L884.8 116.8L878.4 118.1L811.1 143.1ZM808.6 145.2L812.9 144.9L883.6 122.4L890.1 119.3L883 120.5L812.3 143ZM817.1 144L821.9 143.7L887.4 123.9L897.3 119.6L886.7 121.6L821.3 141.5ZM822.9 142.6L828.2 143.4L870.6 131.9L886.6 125.3L869.5 127.7L827.1 139.3ZM820.5 146.6L832.5 144.1L869.9 131.4L881.1 125.9L868.9 128.4L831.5 141.2ZM832.1 144.2L842.6 143.2L874.2 134L879 130.5L873 130.2L841.4 139.4ZM812.9 154.3L829.3 150.8L884.6 131.5L898.4 124.4L883.2 127.5L827.9 146.9ZM815.2 155L831 150.8L889.4 130.9L900.9 125.7L888.7 128.7L830.3 148.6ZM828.4 150L839.7 148.8L875 139.5L881.8 136L874.1 136.3L838.9 145.5ZM823.1 153.2L832.7 152L882.9 139L891.1 135.6L882.2 136.6L832.1 149.6ZM810.2 157L824.2 154.8L885.1 139.5L893 136.2L884.5 137L823.6 152.3ZM811.3 161.2L821 160L891.5 139.5L898.4 135.9L890.7 136.5L820.1 157ZM813.5 159.8L828.7 156.8L891 140.5L899.9 137.3L890.6 138.8L828.3 155.1ZM825.7 158.5L829.9 158.5L883.7 145.6L887.5 143.7L883.2 143.8L829.4 156.7ZM812.5 162.4L824.7 160.8L893.3 146L910 141.3L892.9 144L824.3 158.8ZM813 167L829.5 164.2L894.6 145.2L908.1 139.3L893.6 141.5L828.4 160.5ZM818.6 163.8L827.2 163.9L890.5 151.6L902.3 147.5L889.8 148.2L826.6 160.4ZM817.7 168.3L832.6 166.1L884.2 152.3L891 148.7L883.3 149L831.7 162.8ZM816 167.5L825.4 166.9L889.5 155.9L893.3 154.3L889.2 154L825.1 165ZM834.3 167.1L841.6 166.9L872.7 159.4L880.7 156L872 156.5L840.9 164ZM817.8 169.8L831.6 169.4L885.9 160.4L904.9 155.4L885.3 156.7L831 165.7ZM827.2 170.9L839.7 169.8L880.3 161.5L883.6 159.3L879.7 158.6L839.1 166.9ZM812.1 176.4L824.3 175L886.1 161.4L890.1 159.3L885.5 159L823.8 172.6ZM803 180.1L819.7 178L893.3 162.4L898.4 159.8L892.7 159.5L819.1 175.2ZM839.6 173.9L844.1 174.5L877.5 167.9L882.4 165.5L876.9 165.1L843.6 171.7ZM814.2 178L823.9 178.7L899.9 168.3L912.4 164.5L899.3 164.3L823.3 174.7ZM801.9 183.7L819.9 182.2L891.8 168.4L912.4 162.5L891.1 164.6L819.2 178.4ZM810.3 183.1L822.5 183.1L899 169.2L907.4 165.5L898.2 164.9L821.8 178.8ZM828.2 180L838.1 180.3L888.5 174.1L896.3 171.6L888.1 171.1L837.7 177.4ZM808.6 183.6L825.3 183.9L893.4 176.6L907.6 173L892.9 172.5L824.9 179.7ZM833.6 185.3L844.6 185.3L875 179.3L892 173.9L874.2 175.2L843.8 181.1ZM819.3 186.9L832.2 186.7L894 178.5L912.3 174.5L893.6 175.5L831.8 183.8ZM824.6 189L835.1 189.4L887.7 181.9L901.5 178L887.1 178.1L834.6 185.7ZM808 191.4L824.3 190.9L896.9 182.6L911.4 179.5L896.5 179.8L823.9 188.1ZM820 190.1L825 191.4L899 184L915.2 180.5L898.7 180.4L824.6 187.8ZM828 192.5L843.2 192.3L879.2 188.4L895.2 185.1L878.8 185.3L842.8 189.3ZM818.8 193.3L835.6 193.1L887.7 188.9L900.2 186.7L887.5 186.7L835.4 190.9ZM820.4 195.8L834.1 196.3L891 190.5L898.7 187.8L890.7 186.7L833.7 192.6ZM839.5 194.9L843.7 196.6L887.5 194.3L903.9 191.4L887.3 190.3L843.4 192.7ZM827.5 198.6L841 198.6L889.9 193.5L905.2 190.5L889.6 190.8L840.8 195.9ZM830.5 198.5L847.5 198.8L880.9 196.9L895.8 194.8L880.8 194.4L847.3 196.3ZM826.5 201.3L833.4 202.3L887.5 199.1L894.6 197.2L887.3 196.2L833.2 199.4ZM822.1 201.7L833.7 202.3L881.1 200.1L887.3 198.6L881 197.7L833.6 199.9ZM821.5 203.6L830.5 204.8L896.4 201.9L900.4 200L896.3 198.6L830.3 201.6ZM832.8 205.1L849.5 206.4L880.6 205L892.9 202.3L880.4 200.9L849.3 202.3ZM826.4 207.5L838 207.9L887.9 204L903.3 201.5L887.7 201.4L837.8 205.3ZM826.6 207.5L837.5 208.5L880.8 207.1L897.9 205.2L880.7 204.4L837.4 205.8ZM840.9 209L845.4 209.8L883.2 209L895.1 207.8L883.2 207.2L845.4 208ZM829.1 209.5L835.2 211.6L898.4 212.1L911.5 210.1L898.5 208L835.2 207.6ZM825.9 214.2L836.6 215.7L894.8 213.2L907.8 210.6L894.7 209.2L836.5 211.8ZM819.9 213.3L828.4 214.7L904.6 215.4L914.4 214.2L904.6 212.8L828.4 212.1ZM831.9 215L843.4 216.8L887.5 216.9L908.2 215.3L887.5 213.5L843.4 213.3ZM833.5 217.2L841.8 218.5L886.7 218L903.2 216.4L886.7 215.2L841.7 215.8Z" fill="#000"/>
<path d="M659.8 434.4L668.5 462.2L678 489.8L669.3 462ZM678.2 460.4L684.2 476.8L691.4 492.7L685.4 476.3ZM575.8 439.3L572.6 461.9L570.2 484.5L573.4 462ZM336.5 159.7L317.3 153.9L297.6 149.7L316.9 155.5ZM857.4 245.7L877.2 248.9L897.2 251.2L877.3 248ZM342.3 127.1L319.2 116.7L295.6 107.6L318.7 118ZM823.6 304.6L837.6 310L852 314.1L838 308.6ZM827 261.4L841.8 264.6L856.9 266.6L842.1 263.4ZM369.3 267.5L348.4 272.7L327.8 278.7L348.7 273.6ZM811.1 300.7L829 307.7L847.2 313.9L829.3 306.9ZM717 427.6L731.9 451L747.7 473.8L732.8 450.4ZM814.9 169.5L838.2 165.1L861.1 159.2L837.8 163.6ZM586.5 436.3L584.9 451.9L584.1 467.6L585.7 452ZM511.6 424.8L500.4 452.2L490.5 480L501.7 452.7ZM782.5 367.8L795.6 379L809.8 388.8L796.7 377.6ZM836.7 177.8L849.4 175.9L861.8 172.4L849.1 174.3ZM836.5 194L865.4 191.5L894.1 187.3L865.2 189.7ZM798.3 381.4L812.7 394.5L828.3 406.2L813.9 393.1ZM381.3 322.3L363 329.6L345.3 338.2L363.6 330.9ZM776.2 403.6L793.5 420.3L811.2 436.4L794 419.7ZM312.9 212.6L295.5 211L278 211L295.4 212.7ZM816.9 282L839.5 289.2L862.3 295.6L839.7 288.4ZM461.8 407L445.2 428.1L430 450.1L446.5 429ZM362.4 299.3L333.9 308L306 318.3L334.5 309.6ZM833.4 349.6L844.3 356.3L855.7 362.2L844.7 355.6ZM673.5 450L680.1 473.5L687.7 496.6L681 473.2ZM841.8 216.3L871.5 216.7L901.2 215.5L871.5 215.1ZM366 257.6L341.1 260.1L316.2 263.4L341.2 261ZM786 373.4L803.9 388.7L822.4 403.3L804.5 388ZM335.2 137.3L320.9 131.6L306.3 127L320.5 132.8ZM339.6 253.2L320.1 256.4L300.7 260.2L320.2 257.1ZM816.9 345.2L839.3 357.7L862.1 369.5L839.7 356.9ZM803 329.3L821.6 339.9L840.9 349.1L822.3 338.5ZM837.5 213.5L859.5 212.8L881.4 210.7L859.4 211.5ZM475.7 415.3L461.7 436.4L449 458.2L463 437.2ZM687.6 425.9L699.6 451.7L712.4 477.2L700.4 451.3ZM316.5 168.4L303 165.5L289.4 164L302.8 166.9ZM828.8 151.1L857.7 144.7L886.1 136.6L857.2 143.1ZM427.8 392.3L411.8 408.3L397 425.3L413 409.4ZM537.6 424.5L531.5 445.9L526.8 467.7L532.9 446.2ZM818.1 248.8L845.1 253.1L872.1 256.6L845.2 252.3ZM416.8 389.9L395.5 407.6L375.3 426.5L396.6 408.8ZM824 169.2L853.2 163L881.9 155.2L852.8 161.5ZM482.8 424.9L468.7 448.2L455.2 471.8L469.4 448.6ZM867.5 251.6L882.8 254.1L898.3 255L883 252.5ZM623.7 429.4L627 448.9L631.7 468L628.3 448.6ZM825.2 236.7L853 238.8L880.8 239.4L853 237.3ZM396.1 354.5L375.7 368.5L355.9 383.3L376.3 369.3ZM348.9 213.3L329.2 212.1L309.4 212.4L329.1 213.6ZM817.6 302L838.4 309.9L859.6 316.9L838.7 309ZM351.9 123.7L337.7 118L323 113.8L337.2 119.5ZM562.9 458.9L559.3 483.5L557.4 508.2L561 483.6ZM837.1 325.8L852 333.1L867.6 339.1L852.6 331.8ZM373.7 298.8L358.3 303.6L343.5 309.9L358.9 305.1ZM384.4 367.6L373.6 374.9L363.8 383.4L374.6 376.2ZM708.4 433.2L718.1 454.3L728.5 475.1L718.8 454ZM776.4 364.6L789.5 375.6L803.2 385.7L790.1 374.7ZM450 401.3L432.3 423L415.8 445.5L433.5 423.9ZM805.4 318.2L829.5 329.6L854.1 340L830 328.6ZM358.8 352.6L344.1 360.6L330 369.7L344.7 361.7ZM349.6 136.2L332.8 129.2L315.4 123.7L332.2 130.8ZM835.7 216L856 217.1L876.5 217.1L856.1 216ZM419.7 408.9L409.2 419.9L399.8 431.8L410.2 420.8ZM330.4 132.2L307.5 123.6L284 116.4L307 125.1ZM509.9 453.4L501.3 473.1L493.6 493.2L502.2 473.5ZM848.9 145L872.2 138.9L895.2 131.7L871.9 137.8ZM843.5 293.3L869.2 301.5L895.3 308.3L869.6 300.2ZM446.1 407.8L429.4 430.4L413.6 453.7L430.3 431.1ZM858.6 241.1L879 242.5L899.5 242.6L879.1 241.3ZM761.7 348.6L784.2 365.5L807.2 381.7L784.7 364.9ZM334.8 262.9L318.8 264.6L303.1 267.8L319 266ZM826.2 197.3L843.4 195.7L860.6 193.3L843.3 194.9ZM640.6 420.4L645.6 446.5L651.5 472.4L646.6 446.3ZM448.6 412.3L435.7 428.2L423.5 444.7L436.4 428.7ZM753.9 394.4L770.3 412.4L787.5 429.5L771.2 411.5ZM857.1 247.4L871.9 249.7L886.9 250.7L872.1 248.3ZM692 447.8L698.5 465.5L706.3 482.6L699.8 464.9ZM365.8 364.9L348.6 374.8L331.9 385.7L349.2 375.8ZM744 432.1L754.3 446.8L765.9 460.6L755.6 445.8ZM770.9 395.8L782.4 407.4L794.8 418L783.2 406.5ZM828.6 314.9L850.5 324.6L873 333L851 323.3ZM329.4 295L311.1 299L292.9 303.8L311.3 299.8ZM336.9 230.2L317.9 230.7L299 232.8L318 232.3ZM829 175.1L845.9 172.3L862.5 167.9L845.6 170.7ZM350 315L329 321.2L308.6 329.1L329.6 322.9ZM384.6 335.7L360.2 349.1L336.3 363.3L360.7 350ZM831.2 189.9L852.8 187.5L874.2 183.8L852.6 186.1ZM496.1 405.5L483.8 428.3L472.6 451.6L485 428.8ZM464 411.9L448.7 432.7L434.3 454.3L449.7 433.4ZM854.3 204.4L875.5 204L896.7 202.1L875.5 202.5ZM369.6 132L349 123.8L327.8 117.1L348.4 125.4ZM508.4 438.4L500.1 462.4L492.6 486.6L501 462.6ZM620.8 460.2L621.9 479.4L624.5 498.5L623.4 479.3ZM421.7 405.7L411.2 415.9L401.7 427L412.2 416.8ZM613.2 467.2L613.5 481.7L615.5 496.1L615.2 481.6ZM412.7 390L394.1 407.8L376.6 426.6L395.2 408.8ZM857.4 160.5L877.1 158L896.5 153.9L876.8 156.3ZM462.7 408.5L453.5 422.1L445.3 436.3L454.5 422.7ZM612.3 472.6L612.7 484.9L614.5 497.2L614.1 484.8ZM357.8 158.4L339.4 152L320.6 147.3L338.9 153.6ZM753.7 413.1L765.3 427.8L778 441.5L766.3 426.9Z" fill="#fff"/>
<g id="wm1">
<rect x="26.4" y="1494" width="72.4" height="74.6" rx="13.5" fill="#fddd32"/>
<path d="M30.2 1551.6C31.2 1550.3 33 1550.4 35 1551.2C48 1555.8 76 1555.8 89.5 1551.2C91.5 1550.4 93.3 1550.3 94.3 1551.6C95.2 1553 94.2 1554.7 92.2 1555.5C78 1560.8 46.5 1560.8 32.3 1555.5C30.3 1554.7 29.3 1553 30.2 1551.6Z" fill="#342c29"/>
<path d="M35.5 1550.5C32 1546 30.6 1540 31.6 1534.5C33 1527.5 37.5 1522.5 42.5 1518.8C46 1516.2 49 1514 52 1511C54.5 1508.5 57.5 1504.6 61 1504.1C64.5 1503.9 67.5 1507.5 71 1510.5C75 1513.7 80.5 1517 84.5 1521C88.5 1525 91.8 1531 92.7 1537.5C93.3 1542.5 91.5 1547 87.5 1550.8" fill="none" stroke="#342c29" stroke-width="2.3" stroke-linecap="round" stroke-linejoin="round"/>
<path d="M59.2 1505.4C55.5 1509 53 1513 52.8 1516.5C52.7 1519 53 1521 53.6 1522.6M61.6 1505.6C61 1508.5 61.3 1511.5 62.3 1514C63.2 1516.5 64.5 1518.6 66 1520.4M64 1506C65.5 1508.6 67 1511 69 1513C70.6 1514.7 72.5 1516.2 74.2 1517.4" fill="none" stroke="#342c29" stroke-width="2.1" stroke-linecap="round"/>
<ellipse cx="48.5" cy="1534.9" rx="2.6" ry="3.7" fill="#342c29"/><ellipse cx="75.1" cy="1534.9" rx="2.6" ry="3.7" fill="#342c29"/>
<text x="109.5" y="1539" font-family="'Liberation Sans','Noto Sans CJK SC',sans-serif" font-size="49" font-weight="700" fill="#dadada" textLength="196" lengthAdjust="spacingAndGlyphs">包子漫畫</text>
<text x="103.4" y="1571.8" font-family="Liberation Sans, sans-serif" font-size="34.8" fill="#d8d8d8" stroke="#d8d8d8" stroke-width="0.6" textLength="208.5" lengthAdjust="spacingAndGlyphs">baozimh.com</text>
</g>
<text x="993" y="1577" font-family="'Liberation Sans','Noto Sans CJK SC',sans-serif" font-size="46" font-weight="900" font-style="italic" fill="#fff" stroke="#d9d9d9" stroke-width="4.4" stroke-linejoin="round" paint-order="stroke" textLength="187" lengthAdjust="spacingAndGlyphs">腾讯动漫</text>
<path d="M794.2 745.6L793.4 745.4L792.5 745.3L791.5 745.6L790.4 745.4L789 744.9L787.2 744.9L785.1 745L782.5 744.9L779.4 744.9L775.9 744.7L772.1 744.5L767.9 744.7L763.5 744.2L759.1 744.2L754.7 744.1L750.3 744.3L746 744.2L741.7 743.9L737.5 744.4L733.3 743.9L729.1 744.2L725 744.4L720.8 744.6L716.6 744.6L712.4 744.7L708.2 744.9L704 745.3L699.7 745.5L695.5 745.8L691.3 746.4L687 746.9L682.8 747.8L678.4 748.2L674.2 749.5L669.9 750.2L665.6 751.3L661.3 752L657.3 753.3L653.3 754.4L649.4 755.6L645.8 757.1L642.3 758.5L638.9 759.7L635.7 761.4L632.5 762.6L629.7 764.3L626.9 765.6L624.2 766.7L621.9 768.3L619.7 769.6L617.7 770.9L615.7 772.1L613.9 773.7L612 775.3L609.6 776.5L607.3 778.4L604.7 780.3L601.9 782.5L598.6 784.3L595.3 786.5L591.9 788.8L588.5 791.2L585.4 793.9L581.9 796L578.9 798.7L575.7 801.1L572.7 803.7L569.8 806.3L566.9 809L563.8 811.4L561 814.1L558.3 816.9L555.4 819.4L552.9 822.4L550.1 824.9L547.6 827.8L544.8 830.4L542.2 833.2L539.9 836.2L537.1 838.9L534.9 842.1L532.2 844.9L529.6 847.8L527.4 851L524.7 853.7L522.4 856.5L520.5 859.6L518 862L516.2 864.7L514.1 867.2L512 869.4L510.7 872L508.5 873.9L507.1 876.2L505.4 878.1L504 880.1L502.7 882.1L501.7 884.1L500.6 885.9L499.4 887.5L498.4 888.9L497.5 890.3L496.8 891.6L496.1 892.8L500.9 895.5L501.8 894.4L502.4 893.1L502.8 891.6L503.8 890.1L504.7 888.4L505.9 886.8L507.2 885.1L508.6 883.3L509.7 881.1L511.5 879.4L513 877.3L514.7 875.1L516.1 872.5L518 870.2L520 867.8L521.9 865.1L524.1 862.5L526.3 859.7L528.8 856.9L531 853.9L533.6 851.1L535.8 847.9L538.3 844.9L540.9 842.2L543.5 839.4L545.8 836.4L548.4 833.7L550.9 830.9L553.4 828.1L556.1 825.5L558.7 822.8L561.4 820.1L564.4 817.7L566.9 814.7L569.9 812.3L572.8 809.8L575.6 807.1L578.6 804.6L581.7 802.2L585 800L587.8 797.2L591.3 795.1L594.5 792.6L597.9 790.4L601 788L604.3 786.1L607.3 784.1L609.8 782L612.4 780.5L614.6 778.9L616.8 777.7L618.6 776.2L620.5 775L622.4 773.8L624.4 772.6L626.7 771.2L629.3 770.2L632 768.9L634.6 767.1L637.7 765.9L640.8 764.4L644.1 763.2L647.7 762.5L651.3 761.3L654.9 759.9L658.7 758.7L662.7 757.7L667 757.3L671.1 756.1L675.4 755.7L679.6 755.2L683.7 754.1L687.9 753.9L692 753.3L696.1 753.2L700.3 753.2L704.4 752.6L708.5 752.9L712.7 752.8L716.8 752.7L721 752.4L725.1 752.2L729.2 752.1L733.4 752.2L737.5 752.1L741.7 752.1L745.9 752.7L750.1 752.7L754.4 752.9L758.8 753.1L763.2 753.1L767.5 753L771.7 753.6L775.5 753.5L779 754.1L782.1 754.3L784.7 754L786.8 754.3L788.6 754.4L790 754.3L791.2 754.7L792.2 754.3L793 754.6L793.8 754.6Z" fill="#060606"/>
<path d="M496.1 894.2L496 896.5L496.2 898.8L495.7 901.4L495.8 904.3L496 907.4L496.3 910.8L496.4 914.3L496.2 918.1L496.5 922.1L497 926.2L497.1 930.5L497.4 934.9L497.9 939.3L498.4 943.6L498.8 947.9L499 952L499.6 955.9L499.9 959.7L500.3 963.4L501 966.9L501.5 970.4L502.2 973.8L502.4 977.3L503.4 980.7L503.9 984.2L504.4 987.6L504.7 991.2L505.7 994.6L506.3 998L507.2 1001.4L508 1004.9L508.3 1008.4L509.6 1011.7L509.9 1015.3L511 1018.7L511.8 1022.1L512.8 1025.6L513.2 1029.2L514.3 1032.8L515.8 1036.2L516.4 1040L518 1043.5L519.2 1047.1L520.7 1050.7L522.1 1054.2L523.6 1057.6L525.1 1060.8L526.7 1063.8L527.8 1066.9L529.5 1069.4L530.7 1072.2L532.6 1074.3L534.3 1076.6L535.7 1079.1L537.7 1081.2L539.5 1083.6L541.6 1085.8L543.5 1088.5L545.7 1090.9L548.4 1093L551 1095.3L553.6 1097.8L556.3 1100.5L559.7 1102.5L562.8 1105L566.3 1107.5L569.9 1109.8L573.4 1112.6L577.2 1115L581.1 1117.2L584.9 1119.3L588.8 1121.2L592.6 1123L596.1 1125.2L599.9 1126.6L603.4 1128.4L607.1 1130L610.9 1131.4L614.9 1132.7L618.7 1134.5L622.8 1135.9L627.1 1137.1L631.4 1138.6L635.8 1140L640.4 1140.8L644.9 1142.3L649.5 1143.5L654.3 1144.2L659 1145.6L663.9 1146.4L668.7 1147.1L673.6 1147.8L678.3 1148.4L682.9 1148.9L687.2 1149.5L691.3 1149.6L695.1 1149.7L698.6 1150.4L701.9 1150.8L705 1150.5L708.2 1151L711.4 1150.6L714.8 1151L718.5 1150.7L722.4 1150.6L726.4 1150L730.7 1150L735 1149.1L739.2 1149L743 1148.3L746.5 1148L749.4 1147.6L751.8 1146.8L753.8 1146.4L755.4 1145.8L756.7 1145.3L758 1145.1L759.2 1144.6L760.6 1144.2L762.4 1143.4L764.7 1142.8L767.4 1142L770.4 1141L773.7 1140.1L777.3 1139.6L780.8 1138.4L784.2 1137.2L787.7 1136.4L791.1 1135.4L794.5 1134.8L797.8 1133.7L801.2 1133L804.6 1132L807.9 1130.7L811.4 1130.1L814.9 1129L818.3 1127.7L821.9 1126.5L825.4 1125.2L828.8 1123.8L832.2 1122.6L835.3 1121.2L838.5 1120.5L841.1 1119.4L843.6 1118.5L845.6 1117.3L847.6 1116.5L849.4 1115.7L850.9 1114.5L852.8 1113.8L854.5 1112.7L856.1 1111.4L857.8 1110.2L859.8 1109.1L861.3 1107.4L863.1 1105.8L865.1 1104.5L866.6 1102.6L868.6 1101L870.1 1099.1L871.8 1097.1L873.7 1095.4L875.3 1093.2L877.1 1091.3L878.6 1089.1L880.7 1087.4L882.2 1085.2L883.6 1083L885.3 1081L887.3 1079.3L888.6 1077L890.4 1075.1L892 1073.1L893.9 1071.3L895.7 1069.4L897.2 1067.3L898.7 1065.2L900.5 1063.3L902.2 1061.2L904 1059.3L906 1057.4L907.7 1055.2L909.4 1053L910.8 1050.6L912.2 1048.3L913.3 1045.9L914.6 1043.6L915.1 1041.1L916.5 1039L917.1 1036.5L918.3 1034.2L919 1031.6L919.8 1029L920.9 1026.3L922 1023.6L923.5 1020.9L924.3 1017.9L925.5 1015L926.3 1011.9L927.7 1009.1L928.6 1006.2L929 1003.1L930 1000.3L930.2 997.2L931.2 994.4L931.5 991.4L931.9 988.4L932.1 985.3L932.4 982.3L932.2 979.3L932.3 976.2L932.4 973.3L932.3 970.4L932 967.7L931.8 965L931.8 962.5L931.2 960.2L931.3 958L931.3 955.8L930.9 953.6L931.1 951.4L930.8 949L930.7 946.5L930.1 943.8L929.9 940.8L929.4 937.7L928.9 934.3L928.2 930.9L927.5 927.3L927.1 923.6L926.1 920.1L925.5 916.5L924.6 912.9L923.9 909.3L922.7 905.9L922.1 902.3L920.9 898.9L919.6 895.5L919.1 891.8L917.9 888.4L916.7 884.9L915.3 881.5L914.1 878.1L912.7 874.6L911.6 871.1L910.2 867.7L908.9 864.3L907.7 860.9L906.5 857.4L905.4 853.9L904.1 850.5L902.7 847.1L901.7 843.5L899.9 840.2L898.5 836.7L897.2 833.2L895.9 829.6L894.1 826.2L892.7 822.6L891.1 819.1L889.6 815.6L887.9 812.2L886.4 808.8L884.9 805.5L883.3 802.3L881.1 799.5L879.7 796.4L877.9 793.8L876.2 791.4L874.5 789.2L872.8 787.4L871.5 785.5L864.3 790.6L865.8 792.4L866.9 794.6L868.4 796.7L870.3 798.8L871.7 801.6L873.2 804.3L875.3 806.9L876.8 809.9L878 813.1L879.9 816L881.4 819.3L882.6 822.8L884 826.3L885.4 829.8L886.8 833.3L888.3 836.7L889.4 840.3L890.8 843.7L892.5 847L893.6 850.5L895 853.8L895.8 857.4L897 860.9L898.7 864.1L899.5 867.8L900.8 871.1L902 874.6L903.5 877.9L904.6 881.4L905.7 884.8L906.6 888.2L908 891.5L909.1 894.9L909.7 898.4L911.1 901.7L911.8 905.2L912.7 908.5L913.4 911.9L914.1 915.4L915.5 918.7L916 922.1L916.4 925.7L917 929.2L918 932.5L918.6 935.9L919.1 939.2L919.2 942.3L919.9 945.1L919.7 947.7L920.4 950L920.1 952.3L920.7 954.3L920.8 956.4L920.7 958.5L920.7 960.8L921.1 963.1L921.1 965.7L921.2 968.3L921.2 971L921.3 973.7L921.8 976.5L921.4 979.2L921.5 981.9L921.6 984.6L921.5 987.3L920.7 989.9L920.7 992.6L920 995.2L919.4 997.9L918.7 1000.6L917.9 1003.3L917.3 1006L916.4 1008.7L915.5 1011.5L914.6 1014.3L913.5 1017L912.8 1020L911.2 1022.5L910.2 1025.2L909.5 1028L908.6 1030.5L907.5 1032.9L906.9 1035.3L906.1 1037.5L905 1039.5L904.3 1041.5L903.1 1043.4L902 1045.2L900.7 1047.1L899.3 1048.8L897.9 1050.8L896.3 1052.7L894.5 1054.6L893.2 1056.9L891.5 1058.9L889.7 1060.9L888 1062.9L886.1 1064.8L884.4 1066.7L882.6 1068.7L881.3 1070.9L879.4 1072.8L877.7 1074.7L876.3 1077L874.6 1079.1L872.7 1080.9L871 1082.9L869.8 1085.2L867.8 1086.9L866.4 1089L864.8 1090.8L863.4 1092.8L861.7 1094.4L860.1 1096L858.3 1097.3L856.8 1098.9L855.4 1100.5L853.7 1101.6L852.2 1102.8L850.6 1103.7L849.2 1104.8L847.9 1105.7L846.6 1106.5L845.1 1107.1L843.6 1107.8L841.9 1108.8L840 1109.9L837.5 1110.5L834.9 1111.6L832.2 1113.2L829 1114.3L825.6 1115.3L822.2 1116.4L818.9 1118.2L815.5 1119.2L812.1 1120.3L808.8 1121.5L805.5 1122.5L802.2 1123.4L798.8 1124.2L795.6 1125.2L792.2 1125.8L788.7 1126.6L785.3 1127.5L781.8 1128.4L778.4 1129.5L774.8 1130.5L771.3 1131.3L768 1132.2L765 1133.5L762.1 1133.9L759.7 1134.7L757.8 1135.6L756 1135.6L754.8 1136.4L753.8 1136.8L752.7 1136.7L751.6 1137L750 1137.3L747.9 1138L745.1 1138.5L741.7 1138.5L738 1139.2L733.9 1139.5L729.8 1140.3L725.6 1140.4L721.7 1140.8L718 1141L714.5 1141.3L711.4 1140.9L708.4 1141.1L705.4 1141.1L702.5 1140.8L699.3 1140.7L695.9 1140.7L692.2 1140.1L688.3 1139.6L684 1139.4L679.5 1139L674.8 1138.2L670.1 1137.4L665.4 1137.1L660.7 1136.4L656.1 1135.5L651.6 1134.1L647.1 1133.2L642.7 1132.3L638.4 1130.9L634 1129.9L629.8 1128.7L625.8 1126.8L621.7 1126L618 1124.1L614.2 1122.9L610.5 1121.5L607 1120L603.5 1118.5L600.1 1116.7L596.6 1115.1L592.8 1113.7L589.3 1111.4L585.6 1109.4L581.8 1107.3L578.2 1105L574.4 1103L571.2 1100.3L567.6 1098.4L564.5 1096.1L561.7 1093.7L559.1 1091.3L556.4 1089.3L554 1087.1L551.8 1084.9L549.6 1082.7L547.6 1080.5L545.9 1078.1L543.9 1076.2L542 1074.2L540.5 1072.2L539 1070.1L537.7 1067.8L536.2 1065.6L534.9 1063L533.5 1060.4L532 1057.6L531.1 1054.3L529.2 1051.2L527.9 1047.8L526.9 1044.2L525.7 1040.7L524.4 1037.3L523 1033.9L522.3 1030.4L521.4 1027L520.4 1023.7L519.4 1020.3L518.6 1016.9L518 1013.5L517 1010.1L516.2 1006.7L515.7 1003.2L515.1 999.8L514.1 996.4L513.4 993L512.7 989.6L512.2 986.2L511.6 982.7L511 979.3L510.1 976L509.6 972.6L509 969.2L508.4 965.8L508.1 962.2L507.4 958.7L506.6 955L506.4 951.1L505.4 947.1L504.9 942.9L504.7 938.6L503.8 934.2L503.8 929.9L503.2 925.6L502.6 921.6L502.6 917.7L502.4 914L501.7 910.5L501.6 907.2L501.4 904.2L501.7 901.3L501.3 898.7L501.1 896.4L501 894.2Z" fill="#060606"/>
<circle cx="498.8" cy="894.4" r="2.6" fill="#060606"/>
<path d="M333.1 1386.1L332.6 1386.9L332.2 1387.8L332.1 1389L331 1390L330.4 1391.4L330 1393.1L329.2 1394.9L328.8 1397.1L327.9 1399.4L326.8 1401.8L325.9 1404.6L325.1 1407.5L324.6 1410.7L323.5 1413.8L322.1 1416.9L321.5 1420.2L320.4 1423.5L319.6 1426.9L318.2 1430.2L317.1 1433.6L316.3 1437.2L315.4 1440.8L314.3 1444.2L313.5 1447.8L312.3 1451.2L311.1 1454.6L310.5 1458.2L309.5 1461.6L308.5 1465.1L307.9 1468.6L307.6 1472.2L306.7 1475.6L306.3 1479.2L305.6 1482.6L305 1486.1L304.1 1489.6L304 1493.1L303.6 1496.6L303.6 1500.2L303 1503.7L303.4 1507.2L303.5 1510.7L303.3 1514.2L303.7 1517.7L303.9 1521.2L304.4 1524.7L305 1528.2L305.2 1531.7L306.2 1535.2L306.4 1538.8L307.5 1542.2L308.3 1545.7L309.3 1549.2L310.6 1552.6L311.7 1556.1L312.5 1559.9L314 1563.4L315.6 1567.1L317.5 1570.6L319.1 1574.1L320.6 1577.6L321.8 1581.1L323.3 1584.1L324.9 1586.7L326.1 1589.1L327.2 1591.2L328.2 1593.1L328.7 1595L329.8 1596.5L330.8 1598L331.3 1599.8L332.5 1601.3L333.2 1603.3L334.3 1605.1L335.5 1606.9L336.5 1608.7L337.3 1610.6L338.4 1612.1L339.1 1613.8L340.2 1615L344.1 1612.8L343.3 1611.4L342.7 1609.8L341.6 1608.2L340.5 1606.5L339.6 1604.6L338.6 1602.7L337.6 1600.9L336.7 1599.1L335.8 1597.4L334.7 1596L333.9 1594.4L333.3 1592.7L332.6 1590.9L331.2 1589.2L330.3 1587L329.3 1584.5L327.9 1581.8L326.6 1578.7L324.9 1575.6L323.5 1572.1L321.7 1568.7L320.3 1565L319 1561.5L317.2 1558.1L316.3 1554.6L315.4 1551.1L314.2 1547.8L313.6 1544.4L312.5 1541.1L311.9 1537.6L311 1534.3L311.1 1530.8L310.1 1527.5L309.7 1524.1L309.5 1520.7L309.7 1517.3L309.5 1514L309.1 1510.6L309.5 1507.3L309.6 1503.9L309.8 1500.6L310.1 1497.2L310.3 1493.9L311.1 1490.5L311.5 1487.2L312.3 1483.8L312.4 1480.3L313.4 1477L314.3 1473.6L315.1 1470.3L315.5 1466.8L316.4 1463.4L317.6 1460L318.6 1456.6L319.4 1453.2L320.7 1449.8L321.6 1446.4L322.4 1442.9L323.5 1439.4L324.7 1436L326.1 1432.7L327.2 1429.3L328.1 1425.9L329.3 1422.7L330.3 1419.4L331 1416.1L332.3 1413.1L332.9 1409.9L333.8 1407.1L334.7 1404.4L336 1402.1L336.3 1399.8L337.3 1398L337.7 1396.2L338.3 1394.8L339.1 1393.7L339.5 1392.5L340.2 1391.7L340.6 1390.8L340.9 1389.9Z" fill="#060606"/>
<path d="M400.2 1333.7L401.3 1332.9L402.5 1332.1L404 1331.7L405.6 1331L407.4 1330.2L409.7 1329.7L412.3 1328.9L415.3 1327.9L419 1327.4L423 1326.6L427.5 1325.8L432.2 1324.6L437.4 1324.2L442.7 1323L448.5 1322.7L454.4 1322.3L460.6 1321.3L467.2 1320.9L474 1320.8L480.8 1320.3L487.5 1320.1L493.9 1319.4L499.9 1319.5L505.2 1319.4L509.8 1319.5L513.9 1318.9L517.4 1319L520.5 1319.2L523.6 1319.1L526.7 1319.6L530.1 1319.8L533.9 1319.9L538 1320.4L542.5 1320.6L547.3 1321L552.2 1321.5L557.2 1322.6L562.2 1323.5L567.3 1324.4L572.3 1325.3L577.4 1326.4L582.4 1328L587.6 1329.3L592.6 1330.9L597.4 1332.8L602.2 1334.4L606.7 1336L610.9 1337.8L614.8 1339.7L618.4 1341.6L621.8 1343.4L624.9 1345.6L628.2 1347.2L631.2 1349.4L634.4 1351.5L637.4 1354L640.7 1356.4L643.9 1359.1L647.3 1361.6L650.7 1364.2L653.8 1367.3L657.2 1369.9L660.2 1373L663.3 1375.9L666.2 1379.2L668.8 1382.6L671.3 1386.2L674.2 1389.4L676.6 1393L678.8 1396.4L681.2 1399.6L683.5 1402.5L685.3 1405.5L686.8 1408.3L688.3 1410.9L690 1413.3L691.1 1415.8L692.2 1418.2L693.6 1420.5L694.7 1422.9L695.2 1425.5L696.1 1427.9L697.1 1430.3L698.2 1432.7L698.5 1435.3L699.2 1437.8L700.1 1440.2L700.8 1442.6L700.8 1445.1L701.3 1447.5L701.7 1449.9L702 1452.4L702.3 1454.8L703 1457.4L702.9 1460.1L703.4 1463L703.4 1466L703.1 1469.2L703.2 1472.5L703.5 1475.9L703.3 1479.3L703.4 1482.8L703.3 1486.3L703.5 1489.8L703.4 1493.3L703.2 1496.7L703 1500.1L702.7 1503.5L702.6 1507L702 1510.4L702.2 1513.8L701.8 1517.2L701.2 1520.6L701.2 1524.1L700.7 1527.5L700.2 1530.9L699.7 1534.2L699 1537.6L698.4 1540.9L697.8 1544.3L697.4 1547.7L696.4 1551.1L695.7 1554.5L694.8 1557.9L693.8 1561.2L692.8 1564.6L691.3 1567.9L690.4 1571.4L689.4 1574.9L688 1578.3L687.1 1582L685.9 1585.4L684.2 1588.7L683.1 1592L682.1 1595.2L681 1598.2L680.1 1601.1L678.8 1603.7L677.9 1606.3L677 1608.7L676.1 1610.9L675.2 1612.8L674.6 1614.7L674.3 1616.5L682 1619.6L682.8 1617.9L683.5 1616.1L684.3 1614.1L684.9 1611.8L685.8 1609.4L687.1 1606.9L687.8 1604L688.9 1601.1L690.3 1598.1L691.4 1594.9L692.2 1591.4L693.3 1588L694.8 1584.5L696.1 1581L696.9 1577.3L698.3 1573.8L698.9 1570.2L700 1566.7L700.8 1563.2L701.9 1559.7L702.8 1556.2L703.2 1552.6L704.2 1549.2L705.1 1545.7L705.3 1542.1L706 1538.7L706.4 1535.2L707 1531.7L707.1 1528.2L707.3 1524.7L707.8 1521.2L708.1 1517.8L708.3 1514.3L708.6 1510.9L709 1507.4L709.1 1504L709.5 1500.5L709.6 1497L709.9 1493.6L710.1 1490.1L710 1486.5L710.4 1483L710.3 1479.5L710.4 1476L710.8 1472.5L710.9 1469.1L710.5 1465.8L710.5 1462.7L710.6 1459.7L710.6 1456.8L709.9 1454.1L709.9 1451.4L709.5 1448.8L709 1446.3L708.8 1443.7L708.6 1441L708 1438.4L707.2 1435.8L706.6 1433.1L706.2 1430.4L705.3 1427.7L704.2 1425.1L703.6 1422.3L702.4 1419.7L701.4 1417L700.2 1414.4L699.1 1411.8L697.7 1409.2L696 1406.6L694.4 1403.8L692.9 1400.7L690.9 1397.8L688.9 1394.5L686.8 1391L684.1 1387.6L681.8 1383.8L678.6 1380.5L676.2 1376.6L673.1 1373.1L670 1369.7L666.5 1366.7L663.2 1363.5L660.2 1360.1L656.6 1357.3L653.1 1354.5L649.6 1351.8L646.4 1348.9L642.8 1346.7L639.4 1344.3L636.1 1342.2L632.9 1339.8L629.6 1337.7L626.1 1335.8L622.6 1333.6L618.5 1332L614.4 1329.9L609.9 1328.4L605.4 1326.1L600.3 1324.6L595.2 1323L590.1 1321L584.8 1319.5L579.6 1318L574.3 1316.7L569 1315.6L563.6 1315L558.4 1314.1L553.2 1313.4L548.2 1312.5L543.3 1312.3L538.8 1312L534.6 1311.2L530.7 1311.5L527.2 1311.3L523.9 1310.6L520.7 1310.9L517.4 1310.9L513.8 1310.6L509.7 1310.7L505 1311L499.7 1311L493.7 1311.1L487.2 1310.9L480.4 1311.2L473.5 1311.6L466.7 1311.6L460 1312.2L453.6 1312.7L447.5 1313.4L441.7 1314.1L436.1 1314.6L430.8 1315.2L425.8 1316.2L421.2 1316.8L417 1317.9L413.2 1318.5L409.7 1319.2L406.8 1320.2L404.1 1320.8L401.9 1321.7L400 1322.4L398.5 1323.2L397.2 1324L395.8 1324.3Z" fill="#060606"/>
<circle cx="836.8" cy="767.5" r="53.3" fill="#515350" stroke="#40454a" stroke-width="1.6"/>
<text x="836.6" y="790" text-anchor="middle" font-family="'Liberation Sans','Noto Sans CJK SC',sans-serif" font-size="58" font-weight="700" fill="#000" stroke="#fff" stroke-width="3" stroke-linejoin="round" paint-order="stroke">本</text>
<circle cx="359.4" cy="1344.7" r="56.2" fill="#bed1ce" stroke="#6f8080" stroke-width="1.8"/>
<filter id="gl" x="-20%" y="-20%" width="140%" height="140%"><feGaussianBlur stdDeviation="1.1"/></filter>
<text x="361.5" y="1368.5" text-anchor="middle" font-family="'Liberation Sans','Noto Sans CJK SC',sans-serif" font-size="58" font-weight="700" fill="#fff" stroke="#fff" stroke-width="8.6" stroke-linejoin="round" filter="url(#gl)">萧</text>
<text x="361.5" y="1368.5" text-anchor="middle" font-family="'Liberation Sans','Noto Sans CJK SC',sans-serif" font-size="58" font-weight="700" fill="#000" stroke="#000" stroke-width="0.5">萧</text>
<desc>我都是从功利性目的出发…莫非好感度越高，脑补大法就越强吗？！ / 这个人渣要怎么处理? / 先留着，他肯定还有剩余价值。</desc>
<g font-family="'Liberation Sans','Noto Sans CJK SC',sans-serif" font-size="50" fill="#0a0a0a" stroke="#0a0a0a" stroke-width="0.35">
<text x="428" y="103">我都是从功利</text>
<text x="428" y="163.5">性目的出发<tspan font-family="'Noto Sans CJK SC',sans-serif">…</tspan></text>
<text x="428" y="224">莫非好感度越</text>
<text x="428" y="285">高，脑补大法</text>
<text x="428" y="345.5">就越强吗？！</text>
</g>
<g font-family="'Liberation Sans','Noto Sans CJK SC',sans-serif" font-size="50" fill="#0a0a0a" stroke="#0a0a0a" stroke-width="0.35">
<text x="584" y="942">这个人渣要</text>
<text x="584" y="1002">怎么处理?</text>
</g>
<g font-family="'Liberation Sans','Noto Sans CJK SC',sans-serif" font-size="50" fill="#0a0a0a" stroke="#0a0a0a" stroke-width="0.35">
<text x="378.5" y="1477">先留着，他</text>
<text x="378.5" y="1537.5">肯定还有剩</text>
<text x="378.5" y="1598">余价值。</text>
</g>
</svg>
</body></html>
